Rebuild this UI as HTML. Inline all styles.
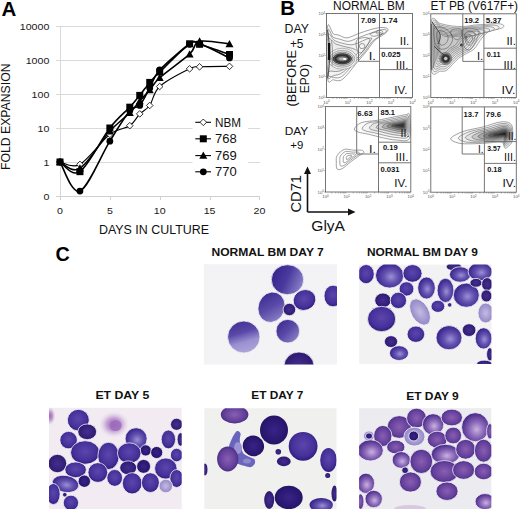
<!DOCTYPE html>
<html><head><meta charset="utf-8"><style>
html,body{margin:0;padding:0;background:#fff;}
svg{display:block;font-family:"Liberation Sans", sans-serif;}
</style></head><body>
<svg width="520" height="509" viewBox="0 0 520 509">
<rect width="520" height="509" fill="#fff"/>
<text x="1.5" y="16" font-size="20.5" text-anchor="start" font-weight="bold" fill="#000">A</text>
<line x1="56" y1="26.5" x2="260" y2="26.5" stroke="#d9d9d9" stroke-width="1"/>
<line x1="56" y1="60.5" x2="260" y2="60.5" stroke="#d9d9d9" stroke-width="1"/>
<line x1="56" y1="94.5" x2="260" y2="94.5" stroke="#d9d9d9" stroke-width="1"/>
<line x1="56" y1="128.5" x2="260" y2="128.5" stroke="#d9d9d9" stroke-width="1"/>
<line x1="56" y1="162.5" x2="260" y2="162.5" stroke="#d9d9d9" stroke-width="1"/>
<line x1="60.5" y1="26" x2="60.5" y2="197" stroke="#d9d9d9" stroke-width="1"/>
<line x1="56" y1="196.5" x2="260" y2="196.5" stroke="#d0d0d0" stroke-width="1"/>
<line x1="60.5" y1="196" x2="60.5" y2="200" stroke="#d0d0d0" stroke-width="1"/>
<line x1="110.5" y1="196" x2="110.5" y2="200" stroke="#d0d0d0" stroke-width="1"/>
<line x1="160.5" y1="196" x2="160.5" y2="200" stroke="#d0d0d0" stroke-width="1"/>
<line x1="210.5" y1="196" x2="210.5" y2="200" stroke="#d0d0d0" stroke-width="1"/>
<line x1="259.5" y1="196" x2="259.5" y2="200" stroke="#d0d0d0" stroke-width="1"/>
<text x="49.3" y="29.9" font-size="9.7" text-anchor="end" font-weight="normal" fill="#1a1a1a" textLength="29.5" lengthAdjust="spacingAndGlyphs">10000</text>
<text x="49.3" y="63.9" font-size="9.7" text-anchor="end" font-weight="normal" fill="#1a1a1a" textLength="23.6" lengthAdjust="spacingAndGlyphs">1000</text>
<text x="49.3" y="97.9" font-size="9.7" text-anchor="end" font-weight="normal" fill="#1a1a1a" textLength="17.7" lengthAdjust="spacingAndGlyphs">100</text>
<text x="49.3" y="131.9" font-size="9.7" text-anchor="end" font-weight="normal" fill="#1a1a1a" textLength="11.8" lengthAdjust="spacingAndGlyphs">10</text>
<text x="49.3" y="165.9" font-size="9.7" text-anchor="end" font-weight="normal" fill="#1a1a1a" textLength="5.9" lengthAdjust="spacingAndGlyphs">1</text>
<text x="49.3" y="199.9" font-size="9.7" text-anchor="end" font-weight="normal" fill="#1a1a1a" textLength="5.9" lengthAdjust="spacingAndGlyphs">0</text>
<text x="60" y="214.3" font-size="9.7" text-anchor="middle" font-weight="normal" fill="#1a1a1a" textLength="5.9" lengthAdjust="spacingAndGlyphs">0</text>
<text x="109.85" y="214.3" font-size="9.7" text-anchor="middle" font-weight="normal" fill="#1a1a1a" textLength="5.9" lengthAdjust="spacingAndGlyphs">5</text>
<text x="159.7" y="214.3" font-size="9.7" text-anchor="middle" font-weight="normal" fill="#1a1a1a" textLength="11.8" lengthAdjust="spacingAndGlyphs">10</text>
<text x="209.55" y="214.3" font-size="9.7" text-anchor="middle" font-weight="normal" fill="#1a1a1a" textLength="11.8" lengthAdjust="spacingAndGlyphs">15</text>
<text x="259.4" y="214.3" font-size="9.7" text-anchor="middle" font-weight="normal" fill="#1a1a1a" textLength="11.8" lengthAdjust="spacingAndGlyphs">20</text>
<text x="99" y="234" font-size="12" text-anchor="start" font-weight="normal" fill="#111" textLength="110" lengthAdjust="spacingAndGlyphs">DAYS IN CULTURE</text>
<text transform="translate(10.3,170) rotate(-90)" x="0" y="0" font-size="12.3" fill="#111" textLength="106.5" lengthAdjust="spacingAndGlyphs">FOLD EXPANSION</text>
<path d="M60,162 C63.32,162.4 71.63,169.01 79.94,164.4 C88.25,159.79 101.54,140.81 109.85,134.36 C118.16,127.91 124.81,129.09 129.79,125.68 C134.78,122.27 136.44,117.26 139.76,113.89 C143.08,110.52 146.41,110.03 149.73,105.47 C153.05,100.9 153.05,92.62 159.7,86.52 C166.35,80.41 182.96,72.11 189.61,68.83 C196.26,65.55 192.93,67.23 199.58,66.82 C206.23,66.41 224.5,66.44 229.49,66.36" fill="none" stroke="#000" stroke-width="1.1"/>
<path d="M60,162 C63.32,163.06 71.63,173.48 79.94,168.36 C88.25,163.24 101.54,140.56 109.85,131.29 C118.16,122.03 124.81,117.84 129.79,112.8 C134.78,107.76 136.44,104.86 139.76,101.06 C143.08,97.26 146.41,93.9 149.73,90.01 C153.05,86.12 153.05,83.7 159.7,77.73 C166.35,71.76 182.96,60.28 189.61,54.21 C196.26,48.14 192.93,43 199.58,41.29 C206.23,39.59 224.5,43.53 229.49,43.98" fill="none" stroke="#000" stroke-width="1.6"/>
<path d="M60,162 C63.32,166.84 71.63,194.5 79.94,191.03 C88.25,187.56 101.54,154.53 109.85,141.17 C118.16,127.8 124.81,116.77 129.79,110.82 C134.78,104.88 136.44,109.27 139.76,105.47 C143.08,101.66 146.41,93.92 149.73,88.01 C153.05,82.1 153.05,77.29 159.7,70 C166.35,62.71 182.96,48.65 189.61,44.28 C196.26,39.91 192.93,41.5 199.58,43.78 C206.23,46.05 224.5,55.58 229.49,57.94" fill="none" stroke="#000" stroke-width="1.6"/>
<path d="M60,162 C63.32,163.61 71.63,177.32 79.94,171.66 C88.25,165.99 101.54,138.75 109.85,128 C118.16,117.25 124.81,112.6 129.79,107.17 C134.78,101.73 136.44,99.52 139.76,95.39 C143.08,91.27 146.41,86.33 149.73,82.42 C153.05,78.52 153.05,78.43 159.7,71.99 C166.35,65.55 182.96,48.4 189.61,43.78 C196.26,39.16 192.93,42.49 199.58,44.28 C206.23,46.07 224.5,52.81 229.49,54.51" fill="none" stroke="#000" stroke-width="1.6"/>
<path d="M60,158.7 L63.3,162 L60,165.3 L56.7,162 Z" fill="#fff" stroke="#000" stroke-width="0.8"/>
<path d="M79.94,161.1 L83.24,164.4 L79.94,167.7 L76.64,164.4 Z" fill="#fff" stroke="#000" stroke-width="0.8"/>
<path d="M109.85,131.06 L113.15,134.36 L109.85,137.66 L106.55,134.36 Z" fill="#fff" stroke="#000" stroke-width="0.8"/>
<path d="M129.79,122.38 L133.09,125.68 L129.79,128.98 L126.49,125.68 Z" fill="#fff" stroke="#000" stroke-width="0.8"/>
<path d="M139.76,110.59 L143.06,113.89 L139.76,117.19 L136.46,113.89 Z" fill="#fff" stroke="#000" stroke-width="0.8"/>
<path d="M149.73,102.17 L153.03,105.47 L149.73,108.77 L146.43,105.47 Z" fill="#fff" stroke="#000" stroke-width="0.8"/>
<path d="M159.7,83.22 L163,86.52 L159.7,89.82 L156.4,86.52 Z" fill="#fff" stroke="#000" stroke-width="0.8"/>
<path d="M189.61,65.53 L192.91,68.83 L189.61,72.13 L186.31,68.83 Z" fill="#fff" stroke="#000" stroke-width="0.8"/>
<path d="M199.58,63.52 L202.88,66.82 L199.58,70.12 L196.28,66.82 Z" fill="#fff" stroke="#000" stroke-width="0.8"/>
<path d="M229.49,63.06 L232.79,66.36 L229.49,69.66 L226.19,66.36 Z" fill="#fff" stroke="#000" stroke-width="0.8"/>
<path d="M60,158 L64,165.2 L56,165.2 Z" fill="#000"/>
<path d="M79.94,164.36 L83.94,171.56 L75.94,171.56 Z" fill="#000"/>
<path d="M109.85,127.29 L113.85,134.49 L105.85,134.49 Z" fill="#000"/>
<path d="M129.79,108.8 L133.79,116 L125.79,116 Z" fill="#000"/>
<path d="M139.76,97.06 L143.76,104.26 L135.76,104.26 Z" fill="#000"/>
<path d="M149.73,86.01 L153.73,93.21 L145.73,93.21 Z" fill="#000"/>
<path d="M159.7,73.73 L163.7,80.93 L155.7,80.93 Z" fill="#000"/>
<path d="M189.61,50.21 L193.61,57.41 L185.61,57.41 Z" fill="#000"/>
<path d="M199.58,37.29 L203.58,44.49 L195.58,44.49 Z" fill="#000"/>
<path d="M229.49,39.98 L233.49,47.18 L225.49,47.18 Z" fill="#000"/>
<circle cx="60" cy="162" r="3.4" fill="#000"/>
<circle cx="79.94" cy="191.03" r="3.4" fill="#000"/>
<circle cx="109.85" cy="141.17" r="3.4" fill="#000"/>
<circle cx="129.79" cy="110.82" r="3.4" fill="#000"/>
<circle cx="139.76" cy="105.47" r="3.4" fill="#000"/>
<circle cx="149.73" cy="88.01" r="3.4" fill="#000"/>
<circle cx="159.7" cy="70" r="3.4" fill="#000"/>
<circle cx="189.61" cy="44.28" r="3.4" fill="#000"/>
<circle cx="199.58" cy="43.78" r="3.4" fill="#000"/>
<circle cx="229.49" cy="57.94" r="3.4" fill="#000"/>
<rect x="56.5" y="158.5" width="7" height="7" fill="#000"/>
<rect x="76.44" y="168.16" width="7" height="7" fill="#000"/>
<rect x="106.35" y="124.5" width="7" height="7" fill="#000"/>
<rect x="126.29" y="103.67" width="7" height="7" fill="#000"/>
<rect x="136.26" y="91.89" width="7" height="7" fill="#000"/>
<rect x="146.23" y="78.92" width="7" height="7" fill="#000"/>
<rect x="156.2" y="68.49" width="7" height="7" fill="#000"/>
<rect x="186.11" y="40.28" width="7" height="7" fill="#000"/>
<rect x="196.08" y="40.78" width="7" height="7" fill="#000"/>
<rect x="225.99" y="51.01" width="7" height="7" fill="#000"/>
<rect x="192.5" y="113" width="55.5" height="66" fill="#fff"/>
<line x1="195.3" y1="122.3" x2="211" y2="122.3" stroke="#000" stroke-width="1.1"/>
<path d="M203.3,119 L206.6,122.3 L203.3,125.6 L200,122.3 Z" fill="#fff" stroke="#000" stroke-width="0.8"/>
<text x="215" y="126.6" font-size="12" text-anchor="start" font-weight="normal" fill="#111" textLength="26" lengthAdjust="spacingAndGlyphs">NBM</text>
<line x1="195.3" y1="138.8" x2="211" y2="138.8" stroke="#000" stroke-width="1.1"/>
<rect x="199.8" y="135.3" width="7" height="7" fill="#000"/>
<text x="215" y="143.1" font-size="12" text-anchor="start" font-weight="normal" fill="#111" textLength="21.7" lengthAdjust="spacingAndGlyphs">768</text>
<line x1="195.3" y1="155.6" x2="211" y2="155.6" stroke="#000" stroke-width="1.1"/>
<path d="M203.3,151.6 L207.3,158.8 L199.3,158.8 Z" fill="#000"/>
<text x="215" y="159.9" font-size="12" text-anchor="start" font-weight="normal" fill="#111" textLength="21.7" lengthAdjust="spacingAndGlyphs">769</text>
<line x1="195.3" y1="171.8" x2="211" y2="171.8" stroke="#000" stroke-width="1.1"/>
<circle cx="203.3" cy="171.8" r="3.4" fill="#000"/>
<text x="215" y="176.1" font-size="12" text-anchor="start" font-weight="normal" fill="#111" textLength="21.7" lengthAdjust="spacingAndGlyphs">770</text>
<text x="280.2" y="14.8" font-size="19.5" text-anchor="start" font-weight="bold" fill="#000" textLength="14.8" lengthAdjust="spacingAndGlyphs">B</text>
<text x="333.1" y="9.6" font-size="12" text-anchor="start" font-weight="normal" fill="#111" textLength="71.7" lengthAdjust="spacingAndGlyphs">NORMAL BM</text>
<text x="430.6" y="9.6" font-size="12" text-anchor="start" font-weight="normal" fill="#111" textLength="87.5" lengthAdjust="spacingAndGlyphs">ET PB (V617F+)</text>
<text x="284.6" y="33" font-size="12.2" text-anchor="start" font-weight="normal" fill="#111" textLength="24.3" lengthAdjust="spacingAndGlyphs">DAY</text>
<text x="289.9" y="47.6" font-size="12.6" text-anchor="start" font-weight="normal" fill="#111" textLength="13.6" lengthAdjust="spacingAndGlyphs">+5</text>
<text transform="translate(295.8,106.6) rotate(-90)" font-size="13.3" fill="#111" textLength="56.5" lengthAdjust="spacingAndGlyphs">(BEFORE</text>
<text transform="translate(309.4,93.2) rotate(-90)" font-size="12.6" fill="#111" textLength="29.3" lengthAdjust="spacingAndGlyphs">EPO)</text>
<text x="284.7" y="134.5" font-size="11.5" text-anchor="start" font-weight="normal" fill="#111" textLength="23.6" lengthAdjust="spacingAndGlyphs">DAY</text>
<text x="290.3" y="148.7" font-size="11.5" text-anchor="start" font-weight="normal" fill="#111" textLength="13" lengthAdjust="spacingAndGlyphs">+9</text>
<path d="M307.5,212 L307.5,172 M307.5,212 L350,212" stroke="#111" stroke-width="1.6" fill="none"/>
<path d="M307.5,166.5 L304,174 L311,174 Z" fill="#111"/>
<path d="M355.5,212 L348,208.5 L348,215.5 Z" fill="#111"/>
<text transform="translate(301.3,212.5) rotate(-90)" font-size="15" fill="#111" textLength="37.5" lengthAdjust="spacingAndGlyphs">CD71</text>
<text x="311.3" y="230.8" font-size="14.5" text-anchor="start" font-weight="normal" fill="#111" textLength="33.7" lengthAdjust="spacingAndGlyphs">GlyA</text>
<text x="325" y="99" font-size="4.3" fill="#555" text-anchor="end">10<tspan dy="-1.5" font-size="3">0</tspan></text>
<line x1="325" y1="97.5" x2="326.5" y2="97.5" stroke="#999" stroke-width="0.6"/>
<text x="325" y="78" font-size="4.3" fill="#555" text-anchor="end">10<tspan dy="-1.5" font-size="3">1</tspan></text>
<line x1="325" y1="76.5" x2="326.5" y2="76.5" stroke="#999" stroke-width="0.6"/>
<text x="325" y="57" font-size="4.3" fill="#555" text-anchor="end">10<tspan dy="-1.5" font-size="3">2</tspan></text>
<line x1="325" y1="55.5" x2="326.5" y2="55.5" stroke="#999" stroke-width="0.6"/>
<text x="325" y="36" font-size="4.3" fill="#555" text-anchor="end">10<tspan dy="-1.5" font-size="3">3</tspan></text>
<line x1="325" y1="34.5" x2="326.5" y2="34.5" stroke="#999" stroke-width="0.6"/>
<text x="325" y="15" font-size="4.3" fill="#555" text-anchor="end">10<tspan dy="-1.5" font-size="3">4</tspan></text>
<line x1="325" y1="13.5" x2="326.5" y2="13.5" stroke="#999" stroke-width="0.6"/>
<text x="326.5" y="103.5" font-size="4.3" fill="#555" text-anchor="middle">10<tspan dy="-1.5" font-size="3">0</tspan></text>
<text x="348" y="103.5" font-size="4.3" fill="#555" text-anchor="middle">10<tspan dy="-1.5" font-size="3">1</tspan></text>
<text x="369.5" y="103.5" font-size="4.3" fill="#555" text-anchor="middle">10<tspan dy="-1.5" font-size="3">2</tspan></text>
<text x="391" y="103.5" font-size="4.3" fill="#555" text-anchor="middle">10<tspan dy="-1.5" font-size="3">3</tspan></text>
<text x="412.5" y="103.5" font-size="4.3" fill="#555" text-anchor="middle">10<tspan dy="-1.5" font-size="3">4</tspan></text>
<line x1="332.97" y1="97.5" x2="332.97" y2="99" stroke="#777" stroke-width="0.5"/>
<line x1="336.76" y1="97.5" x2="336.76" y2="99" stroke="#777" stroke-width="0.5"/>
<line x1="339.44" y1="97.5" x2="339.44" y2="99" stroke="#777" stroke-width="0.5"/>
<line x1="341.53" y1="97.5" x2="341.53" y2="99" stroke="#777" stroke-width="0.5"/>
<line x1="343.23" y1="97.5" x2="343.23" y2="99" stroke="#777" stroke-width="0.5"/>
<line x1="344.67" y1="97.5" x2="344.67" y2="99" stroke="#777" stroke-width="0.5"/>
<line x1="345.92" y1="97.5" x2="345.92" y2="99" stroke="#777" stroke-width="0.5"/>
<line x1="347.02" y1="97.5" x2="347.02" y2="99" stroke="#777" stroke-width="0.5"/>
<line x1="354.47" y1="97.5" x2="354.47" y2="99" stroke="#777" stroke-width="0.5"/>
<line x1="358.26" y1="97.5" x2="358.26" y2="99" stroke="#777" stroke-width="0.5"/>
<line x1="360.94" y1="97.5" x2="360.94" y2="99" stroke="#777" stroke-width="0.5"/>
<line x1="363.03" y1="97.5" x2="363.03" y2="99" stroke="#777" stroke-width="0.5"/>
<line x1="364.73" y1="97.5" x2="364.73" y2="99" stroke="#777" stroke-width="0.5"/>
<line x1="366.17" y1="97.5" x2="366.17" y2="99" stroke="#777" stroke-width="0.5"/>
<line x1="367.42" y1="97.5" x2="367.42" y2="99" stroke="#777" stroke-width="0.5"/>
<line x1="368.52" y1="97.5" x2="368.52" y2="99" stroke="#777" stroke-width="0.5"/>
<line x1="375.97" y1="97.5" x2="375.97" y2="99" stroke="#777" stroke-width="0.5"/>
<line x1="379.76" y1="97.5" x2="379.76" y2="99" stroke="#777" stroke-width="0.5"/>
<line x1="382.44" y1="97.5" x2="382.44" y2="99" stroke="#777" stroke-width="0.5"/>
<line x1="384.53" y1="97.5" x2="384.53" y2="99" stroke="#777" stroke-width="0.5"/>
<line x1="386.23" y1="97.5" x2="386.23" y2="99" stroke="#777" stroke-width="0.5"/>
<line x1="387.67" y1="97.5" x2="387.67" y2="99" stroke="#777" stroke-width="0.5"/>
<line x1="388.92" y1="97.5" x2="388.92" y2="99" stroke="#777" stroke-width="0.5"/>
<line x1="390.02" y1="97.5" x2="390.02" y2="99" stroke="#777" stroke-width="0.5"/>
<line x1="397.47" y1="97.5" x2="397.47" y2="99" stroke="#777" stroke-width="0.5"/>
<line x1="401.26" y1="97.5" x2="401.26" y2="99" stroke="#777" stroke-width="0.5"/>
<line x1="403.94" y1="97.5" x2="403.94" y2="99" stroke="#777" stroke-width="0.5"/>
<line x1="406.03" y1="97.5" x2="406.03" y2="99" stroke="#777" stroke-width="0.5"/>
<line x1="407.73" y1="97.5" x2="407.73" y2="99" stroke="#777" stroke-width="0.5"/>
<line x1="409.17" y1="97.5" x2="409.17" y2="99" stroke="#777" stroke-width="0.5"/>
<line x1="410.42" y1="97.5" x2="410.42" y2="99" stroke="#777" stroke-width="0.5"/>
<line x1="411.52" y1="97.5" x2="411.52" y2="99" stroke="#777" stroke-width="0.5"/>
<text x="429.3" y="99" font-size="4.3" fill="#555" text-anchor="end">10<tspan dy="-1.5" font-size="3">0</tspan></text>
<line x1="429.3" y1="97.5" x2="430.8" y2="97.5" stroke="#999" stroke-width="0.6"/>
<text x="429.3" y="78.08" font-size="4.3" fill="#555" text-anchor="end">10<tspan dy="-1.5" font-size="3">1</tspan></text>
<line x1="429.3" y1="76.58" x2="430.8" y2="76.58" stroke="#999" stroke-width="0.6"/>
<text x="429.3" y="57.15" font-size="4.3" fill="#555" text-anchor="end">10<tspan dy="-1.5" font-size="3">2</tspan></text>
<line x1="429.3" y1="55.65" x2="430.8" y2="55.65" stroke="#999" stroke-width="0.6"/>
<text x="429.3" y="36.22" font-size="4.3" fill="#555" text-anchor="end">10<tspan dy="-1.5" font-size="3">3</tspan></text>
<line x1="429.3" y1="34.72" x2="430.8" y2="34.72" stroke="#999" stroke-width="0.6"/>
<text x="429.3" y="15.3" font-size="4.3" fill="#555" text-anchor="end">10<tspan dy="-1.5" font-size="3">4</tspan></text>
<line x1="429.3" y1="13.8" x2="430.8" y2="13.8" stroke="#999" stroke-width="0.6"/>
<text x="430.8" y="103.5" font-size="4.3" fill="#555" text-anchor="middle">10<tspan dy="-1.5" font-size="3">0</tspan></text>
<text x="452.18" y="103.5" font-size="4.3" fill="#555" text-anchor="middle">10<tspan dy="-1.5" font-size="3">1</tspan></text>
<text x="473.55" y="103.5" font-size="4.3" fill="#555" text-anchor="middle">10<tspan dy="-1.5" font-size="3">2</tspan></text>
<text x="494.92" y="103.5" font-size="4.3" fill="#555" text-anchor="middle">10<tspan dy="-1.5" font-size="3">3</tspan></text>
<text x="516.3" y="103.5" font-size="4.3" fill="#555" text-anchor="middle">10<tspan dy="-1.5" font-size="3">4</tspan></text>
<line x1="437.23" y1="97.5" x2="437.23" y2="99" stroke="#777" stroke-width="0.5"/>
<line x1="441" y1="97.5" x2="441" y2="99" stroke="#777" stroke-width="0.5"/>
<line x1="443.67" y1="97.5" x2="443.67" y2="99" stroke="#777" stroke-width="0.5"/>
<line x1="445.74" y1="97.5" x2="445.74" y2="99" stroke="#777" stroke-width="0.5"/>
<line x1="447.43" y1="97.5" x2="447.43" y2="99" stroke="#777" stroke-width="0.5"/>
<line x1="448.86" y1="97.5" x2="448.86" y2="99" stroke="#777" stroke-width="0.5"/>
<line x1="450.1" y1="97.5" x2="450.1" y2="99" stroke="#777" stroke-width="0.5"/>
<line x1="451.2" y1="97.5" x2="451.2" y2="99" stroke="#777" stroke-width="0.5"/>
<line x1="458.61" y1="97.5" x2="458.61" y2="99" stroke="#777" stroke-width="0.5"/>
<line x1="462.37" y1="97.5" x2="462.37" y2="99" stroke="#777" stroke-width="0.5"/>
<line x1="465.04" y1="97.5" x2="465.04" y2="99" stroke="#777" stroke-width="0.5"/>
<line x1="467.12" y1="97.5" x2="467.12" y2="99" stroke="#777" stroke-width="0.5"/>
<line x1="468.81" y1="97.5" x2="468.81" y2="99" stroke="#777" stroke-width="0.5"/>
<line x1="470.24" y1="97.5" x2="470.24" y2="99" stroke="#777" stroke-width="0.5"/>
<line x1="471.48" y1="97.5" x2="471.48" y2="99" stroke="#777" stroke-width="0.5"/>
<line x1="472.57" y1="97.5" x2="472.57" y2="99" stroke="#777" stroke-width="0.5"/>
<line x1="479.98" y1="97.5" x2="479.98" y2="99" stroke="#777" stroke-width="0.5"/>
<line x1="483.75" y1="97.5" x2="483.75" y2="99" stroke="#777" stroke-width="0.5"/>
<line x1="486.42" y1="97.5" x2="486.42" y2="99" stroke="#777" stroke-width="0.5"/>
<line x1="488.49" y1="97.5" x2="488.49" y2="99" stroke="#777" stroke-width="0.5"/>
<line x1="490.18" y1="97.5" x2="490.18" y2="99" stroke="#777" stroke-width="0.5"/>
<line x1="491.61" y1="97.5" x2="491.61" y2="99" stroke="#777" stroke-width="0.5"/>
<line x1="492.85" y1="97.5" x2="492.85" y2="99" stroke="#777" stroke-width="0.5"/>
<line x1="493.95" y1="97.5" x2="493.95" y2="99" stroke="#777" stroke-width="0.5"/>
<line x1="501.36" y1="97.5" x2="501.36" y2="99" stroke="#777" stroke-width="0.5"/>
<line x1="505.12" y1="97.5" x2="505.12" y2="99" stroke="#777" stroke-width="0.5"/>
<line x1="507.79" y1="97.5" x2="507.79" y2="99" stroke="#777" stroke-width="0.5"/>
<line x1="509.87" y1="97.5" x2="509.87" y2="99" stroke="#777" stroke-width="0.5"/>
<line x1="511.56" y1="97.5" x2="511.56" y2="99" stroke="#777" stroke-width="0.5"/>
<line x1="512.99" y1="97.5" x2="512.99" y2="99" stroke="#777" stroke-width="0.5"/>
<line x1="514.23" y1="97.5" x2="514.23" y2="99" stroke="#777" stroke-width="0.5"/>
<line x1="515.32" y1="97.5" x2="515.32" y2="99" stroke="#777" stroke-width="0.5"/>
<text x="324" y="193.5" font-size="4.3" fill="#555" text-anchor="end">10<tspan dy="-1.5" font-size="3">0</tspan></text>
<line x1="324" y1="192" x2="325.5" y2="192" stroke="#999" stroke-width="0.6"/>
<text x="324" y="172.15" font-size="4.3" fill="#555" text-anchor="end">10<tspan dy="-1.5" font-size="3">1</tspan></text>
<line x1="324" y1="170.65" x2="325.5" y2="170.65" stroke="#999" stroke-width="0.6"/>
<text x="324" y="150.8" font-size="4.3" fill="#555" text-anchor="end">10<tspan dy="-1.5" font-size="3">2</tspan></text>
<line x1="324" y1="149.3" x2="325.5" y2="149.3" stroke="#999" stroke-width="0.6"/>
<text x="324" y="129.45" font-size="4.3" fill="#555" text-anchor="end">10<tspan dy="-1.5" font-size="3">3</tspan></text>
<line x1="324" y1="127.95" x2="325.5" y2="127.95" stroke="#999" stroke-width="0.6"/>
<text x="324" y="108.1" font-size="4.3" fill="#555" text-anchor="end">10<tspan dy="-1.5" font-size="3">4</tspan></text>
<line x1="324" y1="106.6" x2="325.5" y2="106.6" stroke="#999" stroke-width="0.6"/>
<text x="325.5" y="198" font-size="4.3" fill="#555" text-anchor="middle">10<tspan dy="-1.5" font-size="3">0</tspan></text>
<text x="346.82" y="198" font-size="4.3" fill="#555" text-anchor="middle">10<tspan dy="-1.5" font-size="3">1</tspan></text>
<text x="368.15" y="198" font-size="4.3" fill="#555" text-anchor="middle">10<tspan dy="-1.5" font-size="3">2</tspan></text>
<text x="389.48" y="198" font-size="4.3" fill="#555" text-anchor="middle">10<tspan dy="-1.5" font-size="3">3</tspan></text>
<text x="410.8" y="198" font-size="4.3" fill="#555" text-anchor="middle">10<tspan dy="-1.5" font-size="3">4</tspan></text>
<line x1="331.92" y1="192" x2="331.92" y2="193.5" stroke="#777" stroke-width="0.5"/>
<line x1="335.67" y1="192" x2="335.67" y2="193.5" stroke="#777" stroke-width="0.5"/>
<line x1="338.34" y1="192" x2="338.34" y2="193.5" stroke="#777" stroke-width="0.5"/>
<line x1="340.41" y1="192" x2="340.41" y2="193.5" stroke="#777" stroke-width="0.5"/>
<line x1="342.09" y1="192" x2="342.09" y2="193.5" stroke="#777" stroke-width="0.5"/>
<line x1="343.52" y1="192" x2="343.52" y2="193.5" stroke="#777" stroke-width="0.5"/>
<line x1="344.76" y1="192" x2="344.76" y2="193.5" stroke="#777" stroke-width="0.5"/>
<line x1="345.85" y1="192" x2="345.85" y2="193.5" stroke="#777" stroke-width="0.5"/>
<line x1="353.24" y1="192" x2="353.24" y2="193.5" stroke="#777" stroke-width="0.5"/>
<line x1="357" y1="192" x2="357" y2="193.5" stroke="#777" stroke-width="0.5"/>
<line x1="359.66" y1="192" x2="359.66" y2="193.5" stroke="#777" stroke-width="0.5"/>
<line x1="361.73" y1="192" x2="361.73" y2="193.5" stroke="#777" stroke-width="0.5"/>
<line x1="363.42" y1="192" x2="363.42" y2="193.5" stroke="#777" stroke-width="0.5"/>
<line x1="364.85" y1="192" x2="364.85" y2="193.5" stroke="#777" stroke-width="0.5"/>
<line x1="366.08" y1="192" x2="366.08" y2="193.5" stroke="#777" stroke-width="0.5"/>
<line x1="367.17" y1="192" x2="367.17" y2="193.5" stroke="#777" stroke-width="0.5"/>
<line x1="374.57" y1="192" x2="374.57" y2="193.5" stroke="#777" stroke-width="0.5"/>
<line x1="378.32" y1="192" x2="378.32" y2="193.5" stroke="#777" stroke-width="0.5"/>
<line x1="380.99" y1="192" x2="380.99" y2="193.5" stroke="#777" stroke-width="0.5"/>
<line x1="383.06" y1="192" x2="383.06" y2="193.5" stroke="#777" stroke-width="0.5"/>
<line x1="384.74" y1="192" x2="384.74" y2="193.5" stroke="#777" stroke-width="0.5"/>
<line x1="386.17" y1="192" x2="386.17" y2="193.5" stroke="#777" stroke-width="0.5"/>
<line x1="387.41" y1="192" x2="387.41" y2="193.5" stroke="#777" stroke-width="0.5"/>
<line x1="388.5" y1="192" x2="388.5" y2="193.5" stroke="#777" stroke-width="0.5"/>
<line x1="395.89" y1="192" x2="395.89" y2="193.5" stroke="#777" stroke-width="0.5"/>
<line x1="399.65" y1="192" x2="399.65" y2="193.5" stroke="#777" stroke-width="0.5"/>
<line x1="402.31" y1="192" x2="402.31" y2="193.5" stroke="#777" stroke-width="0.5"/>
<line x1="404.38" y1="192" x2="404.38" y2="193.5" stroke="#777" stroke-width="0.5"/>
<line x1="406.07" y1="192" x2="406.07" y2="193.5" stroke="#777" stroke-width="0.5"/>
<line x1="407.5" y1="192" x2="407.5" y2="193.5" stroke="#777" stroke-width="0.5"/>
<line x1="408.73" y1="192" x2="408.73" y2="193.5" stroke="#777" stroke-width="0.5"/>
<line x1="409.82" y1="192" x2="409.82" y2="193.5" stroke="#777" stroke-width="0.5"/>
<text x="429.3" y="193.7" font-size="4.3" fill="#555" text-anchor="end">10<tspan dy="-1.5" font-size="3">0</tspan></text>
<line x1="429.3" y1="192.2" x2="430.8" y2="192.2" stroke="#999" stroke-width="0.6"/>
<text x="429.3" y="172.38" font-size="4.3" fill="#555" text-anchor="end">10<tspan dy="-1.5" font-size="3">1</tspan></text>
<line x1="429.3" y1="170.88" x2="430.8" y2="170.88" stroke="#999" stroke-width="0.6"/>
<text x="429.3" y="151.05" font-size="4.3" fill="#555" text-anchor="end">10<tspan dy="-1.5" font-size="3">2</tspan></text>
<line x1="429.3" y1="149.55" x2="430.8" y2="149.55" stroke="#999" stroke-width="0.6"/>
<text x="429.3" y="129.72" font-size="4.3" fill="#555" text-anchor="end">10<tspan dy="-1.5" font-size="3">3</tspan></text>
<line x1="429.3" y1="128.22" x2="430.8" y2="128.22" stroke="#999" stroke-width="0.6"/>
<text x="429.3" y="108.4" font-size="4.3" fill="#555" text-anchor="end">10<tspan dy="-1.5" font-size="3">4</tspan></text>
<line x1="429.3" y1="106.9" x2="430.8" y2="106.9" stroke="#999" stroke-width="0.6"/>
<text x="430.8" y="198.2" font-size="4.3" fill="#555" text-anchor="middle">10<tspan dy="-1.5" font-size="3">0</tspan></text>
<text x="452.18" y="198.2" font-size="4.3" fill="#555" text-anchor="middle">10<tspan dy="-1.5" font-size="3">1</tspan></text>
<text x="473.55" y="198.2" font-size="4.3" fill="#555" text-anchor="middle">10<tspan dy="-1.5" font-size="3">2</tspan></text>
<text x="494.92" y="198.2" font-size="4.3" fill="#555" text-anchor="middle">10<tspan dy="-1.5" font-size="3">3</tspan></text>
<text x="516.3" y="198.2" font-size="4.3" fill="#555" text-anchor="middle">10<tspan dy="-1.5" font-size="3">4</tspan></text>
<line x1="437.23" y1="192.2" x2="437.23" y2="193.7" stroke="#777" stroke-width="0.5"/>
<line x1="441" y1="192.2" x2="441" y2="193.7" stroke="#777" stroke-width="0.5"/>
<line x1="443.67" y1="192.2" x2="443.67" y2="193.7" stroke="#777" stroke-width="0.5"/>
<line x1="445.74" y1="192.2" x2="445.74" y2="193.7" stroke="#777" stroke-width="0.5"/>
<line x1="447.43" y1="192.2" x2="447.43" y2="193.7" stroke="#777" stroke-width="0.5"/>
<line x1="448.86" y1="192.2" x2="448.86" y2="193.7" stroke="#777" stroke-width="0.5"/>
<line x1="450.1" y1="192.2" x2="450.1" y2="193.7" stroke="#777" stroke-width="0.5"/>
<line x1="451.2" y1="192.2" x2="451.2" y2="193.7" stroke="#777" stroke-width="0.5"/>
<line x1="458.61" y1="192.2" x2="458.61" y2="193.7" stroke="#777" stroke-width="0.5"/>
<line x1="462.37" y1="192.2" x2="462.37" y2="193.7" stroke="#777" stroke-width="0.5"/>
<line x1="465.04" y1="192.2" x2="465.04" y2="193.7" stroke="#777" stroke-width="0.5"/>
<line x1="467.12" y1="192.2" x2="467.12" y2="193.7" stroke="#777" stroke-width="0.5"/>
<line x1="468.81" y1="192.2" x2="468.81" y2="193.7" stroke="#777" stroke-width="0.5"/>
<line x1="470.24" y1="192.2" x2="470.24" y2="193.7" stroke="#777" stroke-width="0.5"/>
<line x1="471.48" y1="192.2" x2="471.48" y2="193.7" stroke="#777" stroke-width="0.5"/>
<line x1="472.57" y1="192.2" x2="472.57" y2="193.7" stroke="#777" stroke-width="0.5"/>
<line x1="479.98" y1="192.2" x2="479.98" y2="193.7" stroke="#777" stroke-width="0.5"/>
<line x1="483.75" y1="192.2" x2="483.75" y2="193.7" stroke="#777" stroke-width="0.5"/>
<line x1="486.42" y1="192.2" x2="486.42" y2="193.7" stroke="#777" stroke-width="0.5"/>
<line x1="488.49" y1="192.2" x2="488.49" y2="193.7" stroke="#777" stroke-width="0.5"/>
<line x1="490.18" y1="192.2" x2="490.18" y2="193.7" stroke="#777" stroke-width="0.5"/>
<line x1="491.61" y1="192.2" x2="491.61" y2="193.7" stroke="#777" stroke-width="0.5"/>
<line x1="492.85" y1="192.2" x2="492.85" y2="193.7" stroke="#777" stroke-width="0.5"/>
<line x1="493.95" y1="192.2" x2="493.95" y2="193.7" stroke="#777" stroke-width="0.5"/>
<line x1="501.36" y1="192.2" x2="501.36" y2="193.7" stroke="#777" stroke-width="0.5"/>
<line x1="505.12" y1="192.2" x2="505.12" y2="193.7" stroke="#777" stroke-width="0.5"/>
<line x1="507.79" y1="192.2" x2="507.79" y2="193.7" stroke="#777" stroke-width="0.5"/>
<line x1="509.87" y1="192.2" x2="509.87" y2="193.7" stroke="#777" stroke-width="0.5"/>
<line x1="511.56" y1="192.2" x2="511.56" y2="193.7" stroke="#777" stroke-width="0.5"/>
<line x1="512.99" y1="192.2" x2="512.99" y2="193.7" stroke="#777" stroke-width="0.5"/>
<line x1="514.23" y1="192.2" x2="514.23" y2="193.7" stroke="#777" stroke-width="0.5"/>
<line x1="515.32" y1="192.2" x2="515.32" y2="193.7" stroke="#777" stroke-width="0.5"/>
<path d="M327.48,26.88 C328.44,19.54 331.37,32.38 333.25,33.76 C335.13,35.13 336.46,34.44 338.76,35.13 C341.05,35.82 343.8,38.11 347.01,37.88 C350.22,37.65 354.12,35.13 358.01,33.76 C361.91,32.38 366.72,30.66 370.39,29.63 C374.06,28.6 377.27,27.79 380.02,27.57 C382.77,27.34 385.64,27.68 386.9,28.25 C388.16,28.83 388.27,29.86 387.59,31 C386.9,32.15 384.95,33.53 382.77,35.13 C380.59,36.74 377.27,37.88 374.52,40.63 C371.77,43.38 369.02,48.2 366.27,51.64 C363.51,55.08 360.3,58.51 358.01,61.27 C355.72,64.02 354.57,65.62 352.51,68.14 C350.45,70.66 347.7,74.33 345.63,76.4 C343.57,78.46 342.19,79.95 340.13,80.52 C338.07,81.1 335.36,80.29 333.25,79.83 C331.14,79.38 328.44,86.6 327.48,77.77 C326.51,68.95 326.51,34.21 327.48,26.88Z" fill="#fcfcfc" stroke="#555" stroke-width="0.55"/>
<path d="M327.48,31 C328.44,24.7 331.14,35.82 333.25,37.19 C335.36,38.57 337.61,38.57 340.13,39.26 C342.65,39.94 345.4,41.55 348.38,41.32 C351.36,41.09 354.57,39.14 358.01,37.88 C361.45,36.62 365.81,34.72 369.02,33.76 C372.23,32.79 375.09,32.15 377.27,32.1 C379.45,32.06 381.85,32.7 382.08,33.48 C382.31,34.26 380.36,35.36 378.65,36.78 C376.93,38.2 374.06,39.53 371.77,42.01 C369.48,44.48 367.3,48.66 364.89,51.64 C362.48,54.62 359.62,57.37 357.32,59.89 C355.03,62.41 353.31,64.36 351.13,66.77 C348.96,69.17 346.32,72.5 344.26,74.33 C342.19,76.17 340.82,77.31 338.76,77.77 C336.69,78.23 333.76,77.54 331.88,77.08 C330,76.63 328.21,82.7 327.48,75.02 C326.74,67.34 326.51,37.31 327.48,31Z" fill="#f8f8f8" stroke="#555" stroke-width="0.55"/>
<path d="M327.48,35.13 C328.67,29.74 332.06,39.26 334.63,40.63 C337.2,42.01 340.13,42.7 342.88,43.38 C345.63,44.07 348.5,44.87 351.13,44.76 C353.77,44.64 356.18,43.61 358.7,42.7 C361.22,41.78 364.09,40.01 366.27,39.26 C368.44,38.5 371.31,37.58 371.77,38.16 C372.23,38.73 370.39,40.68 369.02,42.7 C367.64,44.71 365.58,47.62 363.51,50.26 C361.45,52.9 358.81,55.99 356.64,58.51 C354.46,61.04 352.74,63.1 350.45,65.39 C348.15,67.68 345.29,70.66 342.88,72.27 C340.47,73.87 338.57,74.91 336,75.02 C333.44,75.14 328.9,79.61 327.48,72.96 C326.05,66.31 326.28,40.52 327.48,35.13Z" fill="#f3f3f3" stroke="#555" stroke-width="0.55"/>
<path d="M327.48,39.26 C328.9,35.25 332.98,42.81 336,44.07 C339.03,45.33 342.65,46.02 345.63,46.82 C348.61,47.62 351.82,48.04 353.89,48.89 C355.95,49.73 357.78,50.72 358.01,51.91 C358.24,53.1 356.18,54.48 355.26,56.04 C354.34,57.6 353.89,59.48 352.51,61.27 C351.13,63.05 349.07,65.16 347.01,66.77 C344.94,68.37 342.65,70.16 340.13,70.89 C337.61,71.63 333.99,71.63 331.88,71.17 C329.77,70.71 328.21,73.46 327.48,68.14 C326.74,62.82 326.05,43.27 327.48,39.26Z" fill="#ececec" stroke="#555" stroke-width="0.55"/>
<path d="M356.64,40.63 C357.74,38.75 361.34,37.84 363.51,37.61 C365.69,37.38 369.25,37.72 369.7,39.26 C370.16,40.79 367.71,44.53 366.27,46.82 C364.82,49.12 362.6,52.67 361.04,53.01 C359.48,53.36 357.65,50.95 356.91,48.89 C356.18,46.82 355.54,42.51 356.64,40.63Z" fill="none" stroke="#555" stroke-width="0.55"/>
<path d="M370.39,33.76 C371.31,32.77 376.12,31 378.65,30.32 C381.17,29.63 384.38,29.28 385.52,29.63 C386.67,29.97 386.44,31.51 385.52,32.38 C384.61,33.25 382.08,34.21 380.02,34.86 C377.96,35.5 374.75,36.41 373.14,36.23 C371.54,36.05 369.48,34.74 370.39,33.76Z" fill="none" stroke="#555" stroke-width="0.55"/>
<ellipse cx="362.1" cy="46.1" rx="2.8" ry="2.6" fill="none" stroke="#555" stroke-width="0.55"/>
<ellipse cx="379.6" cy="32.3" rx="3.4" ry="2" fill="none" stroke="#555" stroke-width="0.55"/>
<ellipse cx="342.3" cy="58.8" rx="14.5" ry="10.5" fill="#f2f2f2" stroke="#666" stroke-width="0.45"/>
<ellipse cx="342.3" cy="58.8" rx="12.5" ry="8.4" fill="#e2e2e2" stroke="#555" stroke-width="0.45"/>
<ellipse cx="342.3" cy="58.8" rx="10.8" ry="6.6" fill="#c8c8c8" stroke="#444" stroke-width="0.45"/>
<ellipse cx="342.3" cy="58.8" rx="9.2" ry="5.1" fill="#666" stroke="#222" stroke-width="0.8"/>
<ellipse cx="342.3" cy="58.8" rx="7.6" ry="3.9" fill="#3a3a3a" stroke="#111" stroke-width="0.6"/>
<ellipse cx="342.3" cy="58.8" rx="5.8" ry="2.7" fill="#7a7a7a" stroke="#333" stroke-width="0.4"/>
<ellipse cx="342.3" cy="58.8" rx="3.4" ry="1.5" fill="#b8b8b8" stroke="#555" stroke-width="0.3"/>
<ellipse cx="344.8" cy="58.9" rx="1.8" ry="1" fill="#fff"/>
<path d="M327.6,30 C329,40 330,50 329.5,60 C329,68 328.5,74 327.6,78" fill="none" stroke="#555" stroke-width="1.2"/>
<path d="M329.1,43 L329.1,60" stroke="#111" stroke-width="2.4"/>
<path d="M331.5,40 C332.5,48 333,56 332,66" fill="none" stroke="#777" stroke-width="0.7"/>
<path d="M431.38,21.23 C432.87,13.41 437.03,22.77 440.31,23.54 C443.59,24.31 447.23,25.33 451.08,25.85 C454.92,26.36 459.54,26.74 463.38,26.62 C467.23,26.49 470.31,25.46 474.15,25.08 C478,24.69 482.62,24.56 486.46,24.31 C490.31,24.05 494.41,23.41 497.23,23.54 C500.05,23.67 502.62,24.31 503.38,25.08 C504.15,25.85 504.15,27.13 501.85,28.15 C499.54,29.18 492.87,29.56 489.54,31.23 C486.21,32.9 484.41,35.21 481.85,38.15 C479.28,41.1 476.72,46.36 474.15,48.92 C471.59,51.49 469.03,52 466.46,53.54 C463.9,55.08 461.08,56.36 458.77,58.15 C456.46,59.95 454.67,62.26 452.62,64.31 C450.56,66.36 448.51,69.31 446.46,70.46 C444.41,71.62 442.82,71.23 440.31,71.23 C437.79,71.23 432.87,78.79 431.38,70.46 C429.9,62.13 429.9,29.05 431.38,21.23Z" fill="#f8f8f8" stroke="#555" stroke-width="0.5"/>
<path d="M432.47,22.95 C433.84,15.76 437.66,24.37 440.68,25.08 C443.7,25.78 447.05,26.73 450.58,27.2 C454.12,27.67 458.37,28.03 461.91,27.91 C465.45,27.79 468.28,26.85 471.82,26.49 C475.35,26.14 479.6,26.02 483.14,25.78 C486.68,25.55 490.45,24.96 493.05,25.08 C495.64,25.19 498,25.78 498.71,26.49 C499.42,27.2 499.42,28.38 497.29,29.32 C495.17,30.27 489.04,30.62 485.97,32.15 C482.9,33.69 481.25,35.81 478.89,38.52 C476.53,41.24 474.17,46.07 471.82,48.43 C469.46,50.79 467.1,51.26 464.74,52.68 C462.38,54.09 459.78,55.27 457.66,56.92 C455.54,58.57 453.89,60.7 452,62.58 C450.11,64.47 448.23,67.18 446.34,68.25 C444.45,69.31 442.99,68.95 440.68,68.95 C438.37,68.95 433.84,75.91 432.47,68.25 C431.1,60.58 431.1,30.15 432.47,22.95Z" fill="#f2f2f2" stroke="#555" stroke-width="0.5"/>
<path d="M433.55,24.68 C434.8,18.11 438.29,25.97 441.05,26.62 C443.8,27.26 446.86,28.12 450.09,28.55 C453.32,28.98 457.2,29.31 460.43,29.2 C463.66,29.09 466.25,28.23 469.48,27.91 C472.71,27.58 476.58,27.48 479.82,27.26 C483.05,27.05 486.49,26.51 488.86,26.62 C491.23,26.72 493.38,27.26 494.03,27.91 C494.68,28.55 494.68,29.63 492.74,30.49 C490.8,31.35 485.2,31.68 482.4,33.08 C479.6,34.48 478.09,36.42 475.94,38.89 C473.78,41.37 471.63,45.78 469.48,47.94 C467.32,50.09 465.17,50.52 463.02,51.82 C460.86,53.11 458.49,54.18 456.55,55.69 C454.62,57.2 453.11,59.14 451.38,60.86 C449.66,62.58 447.94,65.06 446.22,66.03 C444.49,67 443.16,66.68 441.05,66.68 C438.94,66.68 434.8,73.03 433.55,66.03 C432.3,59.03 432.3,31.25 433.55,24.68Z" fill="#ececec" stroke="#555" stroke-width="0.5"/>
<path d="M434.63,26.4 C435.76,20.46 438.92,27.57 441.42,28.15 C443.91,28.74 446.68,29.52 449.6,29.91 C452.52,30.3 456.03,30.59 458.95,30.49 C461.88,30.39 464.22,29.62 467.14,29.32 C470.06,29.03 473.57,28.93 476.49,28.74 C479.42,28.54 482.53,28.06 484.68,28.15 C486.82,28.25 488.77,28.74 489.35,29.32 C489.94,29.91 489.94,30.88 488.18,31.66 C486.43,32.44 481.36,32.73 478.83,34 C476.3,35.27 474.93,37.02 472.98,39.26 C471.04,41.5 469.09,45.5 467.14,47.45 C465.19,49.39 463.24,49.78 461.29,50.95 C459.34,52.12 457.2,53.1 455.45,54.46 C453.69,55.83 452.33,57.58 450.77,59.14 C449.21,60.7 447.65,62.94 446.09,63.82 C444.53,64.69 443.33,64.4 441.42,64.4 C439.51,64.4 435.76,70.15 434.63,63.82 C433.5,57.48 433.5,32.34 434.63,26.4Z" fill="#e6e6e6" stroke="#555" stroke-width="0.5"/>
<path d="M435.72,28.12 C436.73,22.81 439.55,29.17 441.78,29.69 C444.02,30.22 446.49,30.91 449.11,31.26 C451.72,31.61 454.86,31.87 457.48,31.78 C460.09,31.7 462.18,31 464.8,30.74 C467.42,30.48 470.55,30.39 473.17,30.22 C475.78,30.04 478.57,29.61 480.49,29.69 C482.41,29.78 484.15,30.22 484.68,30.74 C485.2,31.26 485.2,32.13 483.63,32.83 C482.06,33.53 477.53,33.79 475.26,34.92 C472.99,36.06 471.77,37.63 470.03,39.63 C468.29,41.64 466.54,45.21 464.8,46.95 C463.06,48.7 461.31,49.05 459.57,50.09 C457.83,51.14 455.91,52.01 454.34,53.23 C452.77,54.45 451.55,56.02 450.15,57.42 C448.76,58.81 447.36,60.82 445.97,61.6 C444.57,62.38 443.49,62.12 441.78,62.12 C440.08,62.12 436.73,67.27 435.72,61.6 C434.71,55.93 434.71,33.44 435.72,28.12Z" fill="#e0e0e0" stroke="#555" stroke-width="0.5"/>
<path d="M436.8,29.85 C437.69,25.15 440.18,30.77 442.15,31.23 C444.12,31.69 446.31,32.31 448.62,32.62 C450.92,32.92 453.69,33.15 456,33.08 C458.31,33 460.15,32.38 462.46,32.15 C464.77,31.92 467.54,31.85 469.85,31.69 C472.15,31.54 474.62,31.15 476.31,31.23 C478,31.31 479.54,31.69 480,32.15 C480.46,32.62 480.46,33.38 479.08,34 C477.69,34.62 473.69,34.85 471.69,35.85 C469.69,36.85 468.62,38.23 467.08,40 C465.54,41.77 464,44.92 462.46,46.46 C460.92,48 459.38,48.31 457.85,49.23 C456.31,50.15 454.62,50.92 453.23,52 C451.85,53.08 450.77,54.46 449.54,55.69 C448.31,56.92 447.08,58.69 445.85,59.38 C444.62,60.08 443.66,59.85 442.15,59.85 C440.65,59.85 437.69,64.38 436.8,59.38 C435.91,54.38 435.91,34.54 436.8,29.85Z" fill="#dadada" stroke="#555" stroke-width="0.5"/>
<path d="M437.88,31.57 C438.66,27.5 440.82,32.37 442.52,32.77 C444.23,33.17 446.12,33.7 448.12,33.97 C450.12,34.24 452.52,34.44 454.52,34.37 C456.52,34.3 458.12,33.77 460.12,33.57 C462.12,33.37 464.52,33.3 466.52,33.17 C468.52,33.04 470.66,32.7 472.12,32.77 C473.59,32.84 474.92,33.17 475.32,33.57 C475.72,33.97 475.72,34.64 474.52,35.17 C473.32,35.7 469.86,35.9 468.12,36.77 C466.39,37.64 465.46,38.84 464.12,40.37 C462.79,41.9 461.46,44.64 460.12,45.97 C458.79,47.3 457.46,47.57 456.12,48.37 C454.79,49.17 453.32,49.84 452.12,50.77 C450.92,51.7 449.99,52.9 448.92,53.97 C447.86,55.04 446.79,56.57 445.72,57.17 C444.66,57.77 443.83,57.57 442.52,57.57 C441.22,57.57 438.66,61.5 437.88,57.17 C437.11,52.84 437.11,35.64 437.88,31.57Z" fill="#d4d4d4" stroke="#555" stroke-width="0.5"/>
<path d="M438.97,33.29 C439.62,29.85 441.45,33.97 442.89,34.31 C444.34,34.65 445.94,35.1 447.63,35.32 C449.32,35.55 451.35,35.72 453.05,35.66 C454.74,35.61 456.09,35.15 457.78,34.98 C459.48,34.82 461.51,34.76 463.2,34.65 C464.89,34.53 466.7,34.25 467.94,34.31 C469.18,34.36 470.31,34.65 470.65,34.98 C470.98,35.32 470.98,35.89 469.97,36.34 C468.95,36.79 466.02,36.96 464.55,37.69 C463.09,38.43 462.3,39.44 461.17,40.74 C460.04,42.04 458.91,44.35 457.78,45.48 C456.66,46.61 455.53,46.83 454.4,47.51 C453.27,48.18 452.03,48.75 451.02,49.54 C450,50.33 449.21,51.34 448.31,52.25 C447.41,53.15 446.5,54.45 445.6,54.95 C444.7,55.46 444,55.29 442.89,55.29 C441.79,55.29 439.62,58.62 438.97,54.95 C438.31,51.29 438.31,36.73 438.97,33.29Z" fill="#cecece" stroke="#555" stroke-width="0.5"/>
<path d="M440.05,35.02 C440.58,32.2 442.08,35.57 443.26,35.85 C444.44,36.12 445.75,36.49 447.14,36.68 C448.52,36.86 450.18,37 451.57,36.95 C452.95,36.91 454.06,36.54 455.45,36.4 C456.83,36.26 458.49,36.22 459.88,36.12 C461.26,36.03 462.74,35.8 463.75,35.85 C464.77,35.89 465.69,36.12 465.97,36.4 C466.25,36.68 466.25,37.14 465.42,37.51 C464.58,37.88 462.18,38.02 460.98,38.62 C459.78,39.22 459.14,40.05 458.22,41.11 C457.29,42.17 456.37,44.06 455.45,44.98 C454.52,45.91 453.6,46.09 452.68,46.65 C451.75,47.2 450.74,47.66 449.91,48.31 C449.08,48.95 448.43,49.78 447.69,50.52 C446.95,51.26 446.22,52.32 445.48,52.74 C444.74,53.15 444.17,53.02 443.26,53.02 C442.36,53.02 440.58,55.74 440.05,52.74 C439.51,49.74 439.51,37.83 440.05,35.02Z" fill="#c8c8c8" stroke="#555" stroke-width="0.5"/>
<path d="M462.62,30.46 C463.44,28.28 466.08,28.41 468,28.15 C469.92,27.9 472.36,28.41 474.15,28.92 C475.95,29.44 478.26,29.69 478.77,31.23 C479.28,32.77 478,35.97 477.23,38.15 C476.46,40.33 475.44,42.38 474.15,44.31 C472.87,46.23 471.08,49.05 469.54,49.69 C468,50.33 466,49.56 464.92,48.15 C463.85,46.74 463.46,44.18 463.08,41.23 C462.69,38.28 461.79,32.64 462.62,30.46Z" fill="none" stroke="#444" stroke-width="0.5"/>
<path d="M464.92,33.54 C465.77,32.26 468.64,31.23 470.31,31.23 C471.97,31.23 474.28,32.13 474.92,33.54 C475.56,34.95 474.92,37.77 474.15,39.69 C473.38,41.62 471.59,44.44 470.31,45.08 C469.03,45.72 467.31,44.56 466.46,43.54 C465.62,42.51 465.49,40.59 465.23,38.92 C464.97,37.26 464.08,34.82 464.92,33.54Z" fill="none" stroke="#444" stroke-width="0.5"/>
<path d="M466.46,36.62 C467.1,35.59 470.05,34.69 471.08,35.08 C472.1,35.46 472.87,37.64 472.62,38.92 C472.36,40.21 470.44,42.38 469.54,42.77 C468.64,43.15 467.74,42.26 467.23,41.23 C466.72,40.21 465.82,37.64 466.46,36.62Z" fill="none" stroke="#444" stroke-width="0.5"/>
<path d="M434.15,28.92 C435.31,26.36 439.28,26.87 441.85,27.38 C444.41,27.9 447.74,29.95 449.54,32 C451.33,34.05 452.87,37.13 452.62,39.69 C452.36,42.26 450.05,45.85 448,47.38 C445.95,48.92 442.49,49.69 440.31,48.92 C438.13,48.15 435.95,46.1 434.92,42.77 C433.9,39.44 433,31.49 434.15,28.92Z" fill="none" stroke="#444" stroke-width="0.5"/>
<path d="M437.23,32 C438.26,30.59 441.59,30.46 443.38,31.23 C445.18,32 447.49,34.69 448,36.62 C448.51,38.54 447.62,41.36 446.46,42.77 C445.31,44.18 442.62,45.59 441.08,45.08 C439.54,44.56 437.87,41.87 437.23,39.69 C436.59,37.51 436.21,33.41 437.23,32Z" fill="none" stroke="#444" stroke-width="0.5"/>
<path d="M451.08,30.46 C452.36,29.18 458.51,28.15 460.31,28.92 C462.1,29.69 462.36,33.28 461.85,35.08 C461.33,36.87 458.77,39.44 457.23,39.69 C455.69,39.95 453.64,38.15 452.62,36.62 C451.59,35.08 449.79,31.74 451.08,30.46Z" fill="none" stroke="#444" stroke-width="0.5"/>
<ellipse cx="445.7" cy="58.6" rx="6" ry="6" fill="#9a9a9a" stroke="#333" stroke-width="0.4"/>
<ellipse cx="445.7" cy="58.6" rx="4.6" ry="4.6" fill="#555" stroke="#333" stroke-width="0.4"/>
<ellipse cx="445.7" cy="58.6" rx="3.4" ry="3.4" fill="#2a2a2a" stroke="#333" stroke-width="0.4"/>
<ellipse cx="445.7" cy="58.6" rx="2" ry="2" fill="#c8c8c8" stroke="#333" stroke-width="0.4"/>
<path d="M432,22 C435,26 437,29 439.5,33 C441,36 440,40 438,44 M434,46 C438,50 442,54 446,56" fill="none" stroke="#333" stroke-width="0.9"/>
<path d="M431.6,24 L431.6,70" fill="none" stroke="#555" stroke-width="1"/>
<path d="M433.5,26 C435,40 434,55 433.5,68" fill="none" stroke="#666" stroke-width="0.6"/>
<ellipse cx="461.4" cy="45" rx="1.6" ry="1.6" fill="#444"/>
<ellipse cx="466" cy="37" rx="1.3" ry="1.8" fill="#666"/>
<path d="M354.4,128.9 C354.92,127.32 357.68,124.03 361.5,122.6 C365.32,121.17 372.03,121.22 377.3,120.3 C382.57,119.38 388.37,118.03 393.1,117.1 C397.83,116.17 402.97,114.97 405.7,114.7 C408.43,114.43 408.87,111.55 409.5,115.5 C410.13,119.45 411.72,134.32 409.5,138.4 C407.28,142.48 400.78,140.13 396.2,140 C391.62,139.87 386.47,138.53 382,137.6 C377.53,136.67 373.33,135.32 369.4,134.4 C365.47,133.48 360.9,133.02 358.4,132.1 C355.9,131.18 353.88,130.48 354.4,128.9Z" fill="#fbfbfb" stroke="#555" stroke-width="0.55"/>
<path d="M362.18,128.28 C362.61,126.95 364.93,124.19 368.14,122.98 C371.35,121.78 376.99,121.82 381.41,121.05 C385.84,120.28 390.71,119.15 394.68,118.36 C398.66,117.58 402.97,116.57 405.27,116.35 C407.56,116.12 407.93,113.7 408.46,117.02 C408.99,120.34 410.32,132.83 408.46,136.26 C406.6,139.69 401.14,137.71 397.29,137.6 C393.44,137.49 389.11,136.37 385.36,135.58 C381.61,134.8 378.08,133.67 374.78,132.9 C371.47,132.13 367.64,131.73 365.54,130.96 C363.44,130.19 361.74,129.61 362.18,128.28Z" fill="#f3f3f3" stroke="#555" stroke-width="0.55"/>
<path d="M369.47,127.69 C369.82,126.6 371.73,124.33 374.37,123.34 C377,122.35 381.63,122.39 385.27,121.76 C388.9,121.12 392.9,120.19 396.17,119.55 C399.44,118.9 402.98,118.08 404.86,117.89 C406.75,117.71 407.05,115.72 407.49,118.44 C407.92,121.17 409.01,131.43 407.49,134.25 C405.96,137.06 401.47,135.44 398.31,135.35 C395.15,135.26 391.59,134.34 388.51,133.69 C385.43,133.05 382.53,132.12 379.82,131.49 C377.1,130.85 373.95,130.53 372.23,129.9 C370.5,129.27 369.11,128.78 369.47,127.69Z" fill="#e6e6e6" stroke="#555" stroke-width="0.55"/>
<path d="M376.27,127.15 C376.55,126.27 378.08,124.47 380.18,123.68 C382.27,122.89 385.97,122.92 388.87,122.41 C391.76,121.91 394.95,121.17 397.56,120.66 C400.16,120.14 402.98,119.48 404.49,119.34 C405.99,119.19 406.23,117.6 406.57,119.78 C406.92,121.95 407.79,130.12 406.57,132.37 C405.36,134.62 401.78,133.32 399.26,133.25 C396.74,133.18 393.91,132.44 391.45,131.93 C388.99,131.42 386.68,130.67 384.52,130.17 C382.36,129.67 379.84,129.41 378.47,128.91 C377.09,128.4 375.99,128.02 376.27,127.15Z" fill="#d0d0d0" stroke="#555" stroke-width="0.55"/>
<path d="M382.1,126.68 C382.32,126 383.51,124.58 385.15,123.97 C386.8,123.35 389.68,123.37 391.95,122.98 C394.21,122.58 396.71,122 398.74,121.6 C400.78,121.2 402.99,120.69 404.16,120.57 C405.34,120.46 405.52,119.22 405.8,120.92 C406.07,122.61 406.75,129.01 405.8,130.76 C404.84,132.52 402.05,131.51 400.08,131.45 C398.11,131.39 395.89,130.82 393.97,130.42 C392.05,130.02 390.24,129.44 388.55,129.04 C386.86,128.65 384.9,128.45 383.82,128.05 C382.75,127.66 381.88,127.36 382.1,126.68Z" fill="#b0b0b0" stroke="#555" stroke-width="0.55"/>
<path d="M386.96,126.29 C387.13,125.76 388.05,124.68 389.31,124.21 C390.56,123.73 392.78,123.75 394.52,123.45 C396.26,123.15 398.17,122.7 399.73,122.39 C401.3,122.09 402.99,121.69 403.89,121.6 C404.79,121.51 404.94,120.56 405.14,121.86 C405.35,123.17 405.88,128.07 405.14,129.42 C404.41,130.77 402.27,129.99 400.76,129.95 C399.24,129.91 397.54,129.47 396.07,129.16 C394.6,128.85 393.21,128.4 391.91,128.1 C390.61,127.8 389.11,127.65 388.28,127.34 C387.46,127.04 386.79,126.81 386.96,126.29Z" fill="#888" stroke="#555" stroke-width="0.55"/>
<path d="M391.34,125.94 C391.46,125.56 392.12,124.77 393.04,124.42 C393.96,124.08 395.57,124.09 396.83,123.87 C398.1,123.65 399.49,123.33 400.62,123.1 C401.76,122.88 402.99,122.59 403.65,122.53 C404.3,122.46 404.41,121.77 404.56,122.72 C404.71,123.67 405.09,127.24 404.56,128.22 C404.03,129.2 402.47,128.63 401.37,128.6 C400.27,128.57 399.03,128.25 397.96,128.02 C396.89,127.8 395.88,127.48 394.94,127.26 C393.99,127.04 392.9,126.92 392.3,126.7 C391.7,126.48 391.21,126.32 391.34,125.94Z" fill="#555" stroke="#555" stroke-width="0.55"/>
<path d="M395.22,125.62 C395.31,125.37 395.75,124.85 396.36,124.62 C396.97,124.39 398.05,124.39 398.89,124.25 C399.73,124.1 400.66,123.89 401.42,123.74 C402.17,123.59 402.99,123.39 403.43,123.35 C403.87,123.31 403.94,122.85 404.04,123.48 C404.14,124.11 404.39,126.49 404.04,127.14 C403.69,127.8 402.65,127.42 401.91,127.4 C401.18,127.38 400.35,127.17 399.64,127.02 C398.93,126.87 398.25,126.65 397.62,126.5 C396.99,126.36 396.26,126.28 395.86,126.14 C395.46,125.99 395.14,125.88 395.22,125.62Z" fill="#333" stroke="#555" stroke-width="0.55"/>
<path d="M337.1,155.7 C338.42,153.6 341.43,150.32 344.2,149.4 C346.97,148.48 350.82,150.07 353.7,150.2 C356.58,150.33 359.8,149.8 361.5,150.2 C363.2,150.6 364.28,151.68 363.9,152.6 C363.52,153.52 361.43,154.13 359.2,155.7 C356.97,157.27 353.27,159.88 350.5,162 C347.73,164.12 344.83,167.22 342.6,168.4 C340.37,169.58 338.15,170.17 337.1,169.1 C336.05,168.03 336.3,164.23 336.3,162 C336.3,159.77 335.78,157.8 337.1,155.7Z" fill="none" stroke="#555" stroke-width="0.55"/>
<path d="M340.4,156.06 C341.35,154.55 343.52,152.19 345.52,151.53 C347.51,150.87 350.28,152.01 352.36,152.1 C354.43,152.2 356.75,151.82 357.97,152.1 C359.2,152.39 359.98,153.17 359.7,153.83 C359.42,154.49 357.92,154.94 356.32,156.06 C354.71,157.19 352.04,159.08 350.05,160.6 C348.06,162.12 345.97,164.36 344.36,165.21 C342.76,166.06 341.16,166.48 340.4,165.71 C339.65,164.94 339.83,162.21 339.83,160.6 C339.83,158.99 339.46,157.58 340.4,156.06Z" fill="none" stroke="#555" stroke-width="0.55"/>
<path d="M343.59,156.41 C344.18,155.47 345.54,153.99 346.78,153.58 C348.03,153.17 349.76,153.88 351.06,153.94 C352.36,154 353.81,153.76 354.57,153.94 C355.33,154.12 355.82,154.61 355.65,155.02 C355.48,155.43 354.54,155.71 353.53,156.41 C352.53,157.12 350.87,158.3 349.62,159.25 C348.38,160.2 347.07,161.6 346.06,162.13 C345.06,162.66 344.06,162.92 343.59,162.44 C343.12,161.97 343.23,160.25 343.23,159.25 C343.23,158.25 343,157.36 343.59,156.41Z" fill="none" stroke="#555" stroke-width="0.55"/>
<path d="M346.54,156.74 C346.8,156.32 347.41,155.66 347.96,155.48 C348.51,155.3 349.28,155.61 349.86,155.64 C350.44,155.67 351.08,155.56 351.42,155.64 C351.76,155.72 351.98,155.94 351.9,156.12 C351.82,156.3 351.41,156.43 350.96,156.74 C350.51,157.05 349.77,157.58 349.22,158 C348.67,158.42 348.09,159.04 347.64,159.28 C347.19,159.52 346.75,159.63 346.54,159.42 C346.33,159.21 346.38,158.45 346.38,158 C346.38,157.55 346.28,157.16 346.54,156.74Z" fill="none" stroke="#555" stroke-width="0.55"/>
<path d="M450.8,138.5 C451.57,136.57 457.72,133.43 463.1,131.5 C468.48,129.57 477.2,128.43 483.1,126.9 C489,125.37 494.4,123.07 498.5,122.3 C502.6,121.53 505.4,121.53 507.7,122.3 C510,123.07 511.53,123.82 512.3,126.9 C513.07,129.98 513.07,137.47 512.3,140.8 C511.53,144.13 508.98,145.75 507.7,146.9 C506.42,148.05 505.63,148.47 504.6,147.7 C503.57,146.93 504.57,143.07 501.5,142.3 C498.43,141.53 491.32,142.85 486.2,143.1 C481.08,143.35 475.42,143.8 470.8,143.8 C466.18,143.8 461.83,143.98 458.5,143.1 C455.17,142.22 450.03,140.43 450.8,138.5Z" fill="#fbfbfb" stroke="#555" stroke-width="0.55"/>
<path d="M458.39,137.87 C459.05,136.21 464.34,133.51 468.97,131.85 C473.6,130.19 481.09,129.21 486.17,127.89 C491.24,126.58 495.88,124.6 499.41,123.94 C502.94,123.28 505.34,123.28 507.32,123.94 C509.3,124.6 510.62,125.24 511.28,127.89 C511.94,130.55 511.94,136.98 511.28,139.85 C510.62,142.71 508.43,144.1 507.32,145.09 C506.22,146.08 505.54,146.44 504.66,145.78 C503.77,145.12 504.63,141.8 501.99,141.14 C499.35,140.48 493.23,141.61 488.83,141.83 C484.43,142.04 479.56,142.43 475.59,142.43 C471.62,142.43 467.88,142.59 465.01,141.83 C462.14,141.07 457.73,139.53 458.39,137.87Z" fill="#f0f0f0" stroke="#555" stroke-width="0.55"/>
<path d="M465.43,137.28 C465.99,135.87 470.48,133.59 474.41,132.18 C478.34,130.76 484.71,129.94 489.01,128.82 C493.32,127.7 497.26,126.02 500.25,125.46 C503.25,124.9 505.29,124.9 506.97,125.46 C508.65,126.02 509.77,126.57 510.33,128.82 C510.89,131.07 510.89,136.53 510.33,138.96 C509.77,141.4 507.91,142.58 506.97,143.42 C506.03,144.26 505.46,144.56 504.71,144 C503.95,143.44 504.68,140.62 502.44,140.06 C500.21,139.5 495.01,140.46 491.28,140.64 C487.54,140.83 483.4,141.15 480.03,141.15 C476.66,141.15 473.49,141.29 471.06,140.64 C468.62,140 464.87,138.7 465.43,137.28Z" fill="#e0e0e0" stroke="#555" stroke-width="0.55"/>
<path d="M471.94,136.75 C472.41,135.57 476.16,133.65 479.44,132.47 C482.72,131.3 488.04,130.6 491.64,129.67 C495.24,128.73 498.53,127.33 501.04,126.86 C503.54,126.4 505.24,126.4 506.65,126.86 C508.05,127.33 508.99,127.79 509.45,129.67 C509.92,131.55 509.92,136.11 509.45,138.15 C508.99,140.18 507.43,141.17 506.65,141.87 C505.86,142.57 505.39,142.82 504.76,142.36 C504.13,141.89 504.74,139.53 502.87,139.06 C500.99,138.6 496.65,139.4 493.53,139.55 C490.41,139.7 486.95,139.98 484.14,139.98 C481.32,139.98 478.67,140.09 476.63,139.55 C474.6,139.01 471.47,137.92 471.94,136.75Z" fill="#c8c8c8" stroke="#555" stroke-width="0.55"/>
<path d="M477.9,136.25 C478.28,135.28 481.36,133.72 484.05,132.75 C486.74,131.78 491.1,131.22 494.05,130.45 C497,129.68 499.7,128.53 501.75,128.15 C503.8,127.77 505.2,127.77 506.35,128.15 C507.5,128.53 508.27,128.91 508.65,130.45 C509.03,131.99 509.03,135.73 508.65,137.4 C508.27,139.07 506.99,139.88 506.35,140.45 C505.71,141.02 505.32,141.23 504.8,140.85 C504.28,140.47 504.78,138.53 503.25,138.15 C501.72,137.77 498.16,138.43 495.6,138.55 C493.04,138.68 490.21,138.9 487.9,138.9 C485.59,138.9 483.42,138.99 481.75,138.55 C480.08,138.11 477.52,137.22 477.9,136.25Z" fill="#a8a8a8" stroke="#555" stroke-width="0.55"/>
<path d="M483.32,135.8 C483.63,135.03 486.09,133.77 488.24,133 C490.39,132.23 493.88,131.77 496.24,131.16 C498.6,130.55 500.76,129.63 502.4,129.32 C504.04,129.01 505.16,129.01 506.08,129.32 C507,129.63 507.61,129.93 507.92,131.16 C508.23,132.39 508.23,135.39 507.92,136.72 C507.61,138.05 506.59,138.7 506.08,139.16 C505.57,139.62 505.25,139.79 504.84,139.48 C504.43,139.17 504.83,137.63 503.6,137.32 C502.37,137.01 499.53,137.54 497.48,137.64 C495.43,137.74 493.17,137.92 491.32,137.92 C489.47,137.92 487.73,137.99 486.4,137.64 C485.07,137.29 483.01,136.57 483.32,135.8Z" fill="#808080" stroke="#555" stroke-width="0.55"/>
<path d="M488.2,135.4 C488.44,134.8 490.34,133.82 492.01,133.22 C493.68,132.63 496.38,132.27 498.21,131.8 C500.04,131.32 501.71,130.61 502.99,130.37 C504.26,130.14 505.12,130.14 505.84,130.37 C506.55,130.61 507.03,130.84 507.26,131.8 C507.5,132.75 507.5,135.07 507.26,136.11 C507.03,137.14 506.23,137.64 505.84,138 C505.44,138.36 505.2,138.48 504.88,138.25 C504.56,138.01 504.87,136.81 503.92,136.57 C502.96,136.34 500.76,136.74 499.17,136.82 C497.59,136.9 495.83,137.04 494.4,137.04 C492.97,137.04 491.62,137.09 490.58,136.82 C489.55,136.55 487.96,135.99 488.2,135.4Z" fill="#5a5a5a" stroke="#555" stroke-width="0.55"/>
<path d="M493.08,134.99 C493.24,134.56 494.6,133.88 495.78,133.45 C496.97,133.02 498.88,132.78 500.18,132.44 C501.48,132.1 502.67,131.59 503.57,131.43 C504.47,131.26 505.09,131.26 505.59,131.43 C506.1,131.59 506.44,131.76 506.61,132.44 C506.77,133.12 506.77,134.76 506.61,135.5 C506.44,136.23 505.88,136.58 505.59,136.84 C505.31,137.09 505.14,137.18 504.91,137.01 C504.68,136.85 504.9,135.99 504.23,135.83 C503.56,135.66 501.99,135.95 500.86,136 C499.74,136.06 498.49,136.16 497.48,136.16 C496.46,136.16 495.5,136.2 494.77,136 C494.04,135.81 492.91,135.42 493.08,134.99Z" fill="#3a3a3a" stroke="#555" stroke-width="0.55"/>
<path d="M497.41,134.63 C497.52,134.36 498.38,133.92 499.13,133.65 C499.89,133.38 501.11,133.22 501.93,133.01 C502.76,132.79 503.52,132.47 504.09,132.36 C504.66,132.25 505.06,132.25 505.38,132.36 C505.7,132.47 505.91,132.57 506.02,133.01 C506.13,133.44 506.13,134.49 506.02,134.95 C505.91,135.42 505.56,135.65 505.38,135.81 C505.2,135.97 505.09,136.03 504.94,135.92 C504.8,135.81 504.94,135.27 504.51,135.16 C504.08,135.05 503.08,135.24 502.37,135.27 C501.65,135.31 500.86,135.37 500.21,135.37 C499.57,135.37 498.96,135.4 498.49,135.27 C498.02,135.15 497.3,134.9 497.41,134.63Z" fill="#222" stroke="#555" stroke-width="0.55"/>
<rect x="326.5" y="13.5" width="86" height="84" fill="none" stroke="#666" stroke-width="0.9"/>
<path d="M358.5,13.5 L358.5,61.3 L379.5,61.3 M379.5,13.5 L379.5,97.5 M379.5,48.3 L412.5,48.3 M379.5,69.6 L412.5,69.6" fill="none" stroke="#666" stroke-width="0.9"/>
<rect x="430.8" y="13.8" width="85.5" height="83.7" fill="none" stroke="#666" stroke-width="0.9"/>
<path d="M462.8,13.8 L462.8,61.4 L483.9,61.4 M483.9,13.8 L483.9,97.5 M483.9,48.2 L516.3,48.2 M483.9,69.4 L516.3,69.4" fill="none" stroke="#666" stroke-width="0.9"/>
<rect x="325.5" y="106.6" width="85.3" height="85.4" fill="none" stroke="#666" stroke-width="0.9"/>
<path d="M356.7,106.6 L356.7,154 L378.5,154 M378.5,106.6 L378.5,192 M378.5,142.2 L410.8,142.2 M378.5,162.8 L410.8,162.8" fill="none" stroke="#666" stroke-width="0.9"/>
<rect x="430.8" y="106.9" width="85.5" height="85.3" fill="none" stroke="#666" stroke-width="0.9"/>
<path d="M462.2,106.9 L462.2,154 L484.4,154 M484.4,106.9 L484.4,192.2 M484.4,141.6 L516.3,141.6 M484.4,163.4 L516.3,163.4" fill="none" stroke="#666" stroke-width="0.9"/>
<text x="360.7" y="22.9" font-size="8.1" text-anchor="start" font-weight="bold" fill="#111" textLength="15.3" lengthAdjust="spacingAndGlyphs">7.09</text>
<text x="381.9" y="22.9" font-size="8.1" text-anchor="start" font-weight="bold" fill="#111" textLength="15.7" lengthAdjust="spacingAndGlyphs">1.74</text>
<text x="381.3" y="56.7" font-size="8.1" text-anchor="start" font-weight="bold" fill="#111" textLength="19.2" lengthAdjust="spacingAndGlyphs">0.025</text>
<text x="464.2" y="22.9" font-size="8.1" text-anchor="start" font-weight="bold" fill="#111" textLength="14.8" lengthAdjust="spacingAndGlyphs">19.2</text>
<text x="485.8" y="22.9" font-size="8.1" text-anchor="start" font-weight="bold" fill="#111" textLength="15.7" lengthAdjust="spacingAndGlyphs">5.37</text>
<text x="486.8" y="57.2" font-size="8.1" text-anchor="start" font-weight="bold" fill="#111" textLength="13.7" lengthAdjust="spacingAndGlyphs">0.11</text>
<text x="357.3" y="115.6" font-size="8.1" text-anchor="start" font-weight="bold" fill="#111" textLength="15.4" lengthAdjust="spacingAndGlyphs">6.63</text>
<text x="380.5" y="115.2" font-size="8.1" text-anchor="start" font-weight="bold" fill="#111" textLength="14.5" lengthAdjust="spacingAndGlyphs">85.1</text>
<text x="382.9" y="150" font-size="8.1" text-anchor="start" font-weight="bold" fill="#111" textLength="14.7" lengthAdjust="spacingAndGlyphs">0.19</text>
<text x="380.5" y="171.6" font-size="8.1" text-anchor="start" font-weight="bold" fill="#111" textLength="19.1" lengthAdjust="spacingAndGlyphs">0.031</text>
<text x="463.6" y="116.6" font-size="8.1" text-anchor="start" font-weight="bold" fill="#111" textLength="14.9" lengthAdjust="spacingAndGlyphs">13.7</text>
<text x="485.8" y="116.6" font-size="8.1" text-anchor="start" font-weight="bold" fill="#111" textLength="15.2" lengthAdjust="spacingAndGlyphs">79.6</text>
<text x="487.2" y="151.2" font-size="8.1" text-anchor="start" font-weight="bold" fill="#111" textLength="13.3" lengthAdjust="spacingAndGlyphs">3.57</text>
<text x="487.2" y="171.6" font-size="8.1" text-anchor="start" font-weight="bold" fill="#111" textLength="14.3" lengthAdjust="spacingAndGlyphs">0.18</text>
<text x="399.7" y="45.2" font-size="11" text-anchor="start" font-weight="normal" fill="#111" textLength="9.6" lengthAdjust="spacingAndGlyphs">II.</text>
<text x="368.7" y="60" font-size="11" text-anchor="start" font-weight="normal" fill="#111" textLength="7.2" lengthAdjust="spacingAndGlyphs">I.</text>
<text x="395.8" y="68.8" font-size="11" text-anchor="start" font-weight="normal" fill="#111" textLength="12.6" lengthAdjust="spacingAndGlyphs">III.</text>
<text x="394.3" y="94.4" font-size="11" text-anchor="start" font-weight="normal" fill="#111" textLength="13.1" lengthAdjust="spacingAndGlyphs">IV.</text>
<text x="506.4" y="45.3" font-size="11" text-anchor="start" font-weight="normal" fill="#111" textLength="9.6" lengthAdjust="spacingAndGlyphs">II.</text>
<text x="477" y="60" font-size="11" text-anchor="start" font-weight="normal" fill="#111" textLength="6.2" lengthAdjust="spacingAndGlyphs">I.</text>
<text x="503.5" y="68.8" font-size="11" text-anchor="start" font-weight="normal" fill="#111" textLength="12.5" lengthAdjust="spacingAndGlyphs">III.</text>
<text x="501.5" y="94.4" font-size="11" text-anchor="start" font-weight="normal" fill="#111" textLength="14" lengthAdjust="spacingAndGlyphs">IV.</text>
<text x="400.5" y="137.2" font-size="11" text-anchor="start" font-weight="normal" fill="#111" textLength="8.9" lengthAdjust="spacingAndGlyphs">II.</text>
<text x="369" y="153" font-size="11" text-anchor="start" font-weight="normal" fill="#111" textLength="7" lengthAdjust="spacingAndGlyphs">I.</text>
<text x="395.6" y="160.8" font-size="11" text-anchor="start" font-weight="normal" fill="#111" textLength="12.8" lengthAdjust="spacingAndGlyphs">III.</text>
<text x="394.3" y="187.3" font-size="11" text-anchor="start" font-weight="normal" fill="#111" textLength="13.1" lengthAdjust="spacingAndGlyphs">IV.</text>
<text x="508" y="139.8" font-size="11" text-anchor="start" font-weight="normal" fill="#111" textLength="8.3" lengthAdjust="spacingAndGlyphs">II.</text>
<text x="478" y="153" font-size="11" text-anchor="start" font-weight="normal" fill="#111" textLength="5.5" lengthAdjust="spacingAndGlyphs">I.</text>
<text x="504" y="160.8" font-size="11" text-anchor="start" font-weight="normal" fill="#111" textLength="12" lengthAdjust="spacingAndGlyphs">III.</text>
<text x="502.5" y="187.3" font-size="11" text-anchor="start" font-weight="normal" fill="#111" textLength="13.5" lengthAdjust="spacingAndGlyphs">IV.</text>
<defs>
<radialGradient id="ga" cx="50%" cy="45%" r="55%"><stop offset="0" stop-color="#5c46ac"/><stop offset="0.7" stop-color="#45319a"/><stop offset="1" stop-color="#301c7c"/></radialGradient>
<radialGradient id="gb" cx="55%" cy="55%" r="55%"><stop offset="0" stop-color="#9c90d4"/><stop offset="0.45" stop-color="#6452b0"/><stop offset="1" stop-color="#36228a"/></radialGradient>
<radialGradient id="gc" cx="50%" cy="50%" r="55%"><stop offset="0" stop-color="#442e90"/><stop offset="1" stop-color="#2c186c"/></radialGradient>
<radialGradient id="gd" cx="50%" cy="50%" r="50%"><stop offset="0" stop-color="#9a68b8"/><stop offset="0.45" stop-color="#c29cd2"/><stop offset="1" stop-color="#efe6f0" stop-opacity="0"/></radialGradient>
<radialGradient id="ge" cx="50%" cy="50%" r="55%"><stop offset="0" stop-color="#c4bce2"/><stop offset="1" stop-color="#8e82c4"/></radialGradient>
<radialGradient id="gf" cx="50%" cy="50%" r="55%"><stop offset="0" stop-color="#8a5eb2"/><stop offset="0.7" stop-color="#623f9a"/><stop offset="1" stop-color="#42267e"/></radialGradient>
<radialGradient id="gg" cx="55%" cy="58%" r="55%"><stop offset="0" stop-color="#cab2de"/><stop offset="0.5" stop-color="#8866b8"/><stop offset="1" stop-color="#4c2c8a"/></radialGradient>
<linearGradient id="ld" x1="0" y1="0" x2="0.3" y2="1"><stop offset="0" stop-color="#3e2a8e"/><stop offset="0.45" stop-color="#5a48a8"/><stop offset="0.75" stop-color="#9a90d0"/><stop offset="1" stop-color="#a8a0d8"/></linearGradient>
<linearGradient id="lr" x1="0" y1="0.2" x2="1" y2="0.6"><stop offset="0" stop-color="#34228a"/><stop offset="0.5" stop-color="#4a3a9e"/><stop offset="1" stop-color="#8a80c8"/></linearGradient>
<linearGradient id="lbr" x1="0" y1="0" x2="1" y2="1"><stop offset="0" stop-color="#36248a"/><stop offset="0.5" stop-color="#5a4aa8"/><stop offset="1" stop-color="#9a92d0"/></linearGradient>
<radialGradient id="gh" cx="50%" cy="50%" r="55%"><stop offset="0" stop-color="#382488"/><stop offset="1" stop-color="#241266"/></radialGradient>

<clipPath id="c1"><rect x="203.8" y="264.2" width="133.2" height="100.4"/></clipPath>
<clipPath id="c2"><rect x="359.2" y="264.6" width="132.3" height="99.4"/></clipPath>
<clipPath id="c3"><rect x="49" y="407.8" width="132.7" height="101.2"/></clipPath>
<clipPath id="c4"><rect x="204.3" y="408.2" width="132.2" height="100.8"/></clipPath>
<clipPath id="c5"><rect x="359.1" y="408.2" width="132.2" height="100.8"/></clipPath>
</defs>
<rect x="203.8" y="264.2" width="133.2" height="100.4" fill="#f3f3f5"/>
<rect x="359.2" y="264.6" width="132.3" height="99.4" fill="#f2f2f3"/>
<rect x="49" y="407.8" width="132.7" height="101.2" fill="#f2ecf2"/>
<rect x="204.3" y="408.2" width="132.2" height="100.8" fill="#f0f0ee"/>
<rect x="359.1" y="408.2" width="132.2" height="100.8" fill="#ecebf0"/>
<text x="55.5" y="261.2" font-size="20" text-anchor="start" font-weight="bold" fill="#000" textLength="14.3" lengthAdjust="spacingAndGlyphs">C</text>
<text x="211.5" y="256" font-size="11.5" text-anchor="start" font-weight="bold" fill="#111" textLength="112.3" lengthAdjust="spacingAndGlyphs">NORMAL BM DAY 7</text>
<text x="367" y="256.3" font-size="11.5" text-anchor="start" font-weight="bold" fill="#111" textLength="111" lengthAdjust="spacingAndGlyphs">NORMAL BM DAY 9</text>
<text x="95.4" y="399.4" font-size="11.5" text-anchor="start" font-weight="bold" fill="#111" textLength="53.9" lengthAdjust="spacingAndGlyphs">ET DAY 5</text>
<text x="251.3" y="399.4" font-size="11.5" text-anchor="start" font-weight="bold" fill="#111" textLength="52" lengthAdjust="spacingAndGlyphs">ET DAY 7</text>
<text x="406.2" y="399.5" font-size="11.5" text-anchor="start" font-weight="bold" fill="#111" textLength="52.6" lengthAdjust="spacingAndGlyphs">ET DAY 9</text>
<g clip-path="url(#c1)" stroke="#f3f1f6" stroke-width="0.8">
<ellipse cx="287.5" cy="279.7" rx="16.2" ry="15" fill="url(#lr)"/>
<ellipse cx="271.5" cy="307.2" rx="13.3" ry="15.5" fill="url(#lbr)" transform="rotate(20 271.5 307.2)"/>
<ellipse cx="304.5" cy="300" rx="11.5" ry="10.3" fill="url(#ga)" transform="rotate(-20 304.5 300)"/>
<ellipse cx="289.4" cy="309.5" rx="6.3" ry="6.2" fill="url(#gc)"/>
<ellipse cx="333" cy="296" rx="9" ry="10.8" fill="url(#ga)"/>
<ellipse cx="243.8" cy="337" rx="16.2" ry="16" fill="url(#ld)"/>
<ellipse cx="287.8" cy="331.2" rx="11.8" ry="11.8" fill="url(#lbr)"/>
<ellipse cx="299" cy="366" rx="15" ry="14" fill="url(#gc)"/>
</g>
<g clip-path="url(#c2)" stroke="#f3f1f6" stroke-width="0.8">
<ellipse cx="366.1" cy="274.1" rx="8.14" ry="9.57" fill="url(#ga)"/>
<ellipse cx="389.6" cy="275.5" rx="14.08" ry="12.54" fill="url(#gb)"/>
<ellipse cx="412.5" cy="273.4" rx="9.57" ry="8.8" fill="url(#ga)"/>
<ellipse cx="406.5" cy="288.9" rx="7.37" ry="7.15" fill="url(#ga)"/>
<ellipse cx="426.5" cy="288" rx="8.8" ry="11" fill="url(#gb)"/>
<ellipse cx="382.9" cy="300.4" rx="8.14" ry="7.37" fill="url(#gc)"/>
<ellipse cx="398.4" cy="300.4" rx="8.14" ry="8.14" fill="url(#ga)"/>
<ellipse cx="420" cy="312" rx="8.8" ry="14.3" fill="url(#ge)" transform="rotate(-30 420 312)"/>
<ellipse cx="381.6" cy="319" rx="14.08" ry="12.65" fill="url(#ga)"/>
<ellipse cx="453.9" cy="266.8" rx="7.7" ry="3.85" fill="url(#gc)"/>
<ellipse cx="460.1" cy="274.5" rx="10.67" ry="7.7" fill="url(#gb)"/>
<ellipse cx="480.2" cy="271.7" rx="12.1" ry="9.13" fill="url(#gb)"/>
<ellipse cx="445.5" cy="290.4" rx="8.36" ry="12.1" fill="url(#gb)"/>
<ellipse cx="466.3" cy="295.2" rx="12.98" ry="12.1" fill="url(#gb)"/>
<ellipse cx="476" cy="282.8" rx="6.05" ry="4.4" fill="url(#gc)"/>
<ellipse cx="487.1" cy="284.2" rx="5.5" ry="6.6" fill="url(#gc)"/>
<ellipse cx="486.4" cy="295.9" rx="5.5" ry="6.05" fill="url(#gc)"/>
<ellipse cx="437.9" cy="306.3" rx="6.82" ry="6.05" fill="url(#ga)"/>
<ellipse cx="449.7" cy="304.9" rx="2.2" ry="2.2" fill="url(#gc)"/>
<ellipse cx="485.7" cy="313" rx="7.7" ry="9.9" fill="url(#ge)"/>
<ellipse cx="415.9" cy="334.2" rx="8.8" ry="8.14" fill="url(#ga)"/>
<ellipse cx="391" cy="341.6" rx="6.6" ry="5.94" fill="url(#gc)"/>
<ellipse cx="399" cy="353.1" rx="9.57" ry="7.37" fill="url(#gb)"/>
<ellipse cx="449" cy="337.7" rx="12.98" ry="12.1" fill="url(#gb)"/>
<ellipse cx="469.1" cy="330.1" rx="6.82" ry="6.38" fill="url(#gc)"/>
<ellipse cx="483.6" cy="338.4" rx="8.36" ry="10.67" fill="url(#gb)"/>
<ellipse cx="489.9" cy="354.3" rx="3.3" ry="6.6" fill="url(#gc)"/>
<ellipse cx="484.3" cy="364" rx="7.7" ry="3.85" fill="url(#gc)"/>
</g>
<g clip-path="url(#c3)"><ellipse cx="114" cy="424.5" rx="16" ry="14" fill="url(#gd)"/><ellipse cx="115.5" cy="425.5" rx="6" ry="5.5" fill="#9a6cbc" opacity="0.8"/><ellipse cx="50" cy="416" rx="6" ry="10" fill="url(#gd)"/></g>
<g clip-path="url(#c3)" stroke="#f3f1f6" stroke-width="0.8">
<ellipse cx="78.3" cy="420.1" rx="10.98" ry="10.75" fill="url(#ga)" transform="rotate(-20 78.3 420.1)"/>
<ellipse cx="87.2" cy="431.8" rx="9.41" ry="7.84" fill="url(#gc)"/>
<ellipse cx="68.6" cy="440.1" rx="8.74" ry="8.74" fill="url(#ga)"/>
<ellipse cx="136.1" cy="438.7" rx="10.98" ry="10.98" fill="url(#gb)"/>
<ellipse cx="168.4" cy="439.4" rx="7.17" ry="9.41" fill="url(#ga)"/>
<ellipse cx="176.6" cy="424.3" rx="6.05" ry="6.05" fill="url(#gc)"/>
<ellipse cx="180.5" cy="439.4" rx="3.36" ry="6.72" fill="url(#gc)"/>
<ellipse cx="145.7" cy="450.4" rx="5.6" ry="5.6" fill="url(#gh)"/>
<ellipse cx="156.7" cy="452.5" rx="6.05" ry="6.05" fill="url(#gh)"/>
<ellipse cx="176.6" cy="455" rx="6.16" ry="6.72" fill="url(#ga)"/>
<ellipse cx="85.1" cy="452.5" rx="14.56" ry="11.76" fill="url(#ga)"/>
<ellipse cx="108.5" cy="455.9" rx="10.64" ry="13.66" fill="url(#ga)"/>
<ellipse cx="129.2" cy="453.1" rx="11.76" ry="10.3" fill="url(#ga)"/>
<ellipse cx="57.4" cy="463.5" rx="9.3" ry="9.18" fill="url(#gc)"/>
<ellipse cx="75.6" cy="469.8" rx="10.75" ry="7.84" fill="url(#ga)"/>
<ellipse cx="97.8" cy="472.5" rx="9.86" ry="9.86" fill="url(#ga)"/>
<ellipse cx="114.7" cy="477.9" rx="7.84" ry="8.4" fill="url(#ga)"/>
<ellipse cx="128.2" cy="467.8" rx="8.51" ry="6.94" fill="url(#gc)"/>
<ellipse cx="143.6" cy="466.4" rx="6.94" ry="6.94" fill="url(#gh)"/>
<ellipse cx="165.8" cy="468.5" rx="11.2" ry="10.53" fill="url(#ga)"/>
<ellipse cx="176.6" cy="478.5" rx="6.72" ry="8.96" fill="url(#ga)"/>
<ellipse cx="132.2" cy="483.3" rx="9.86" ry="10.64" fill="url(#ga)"/>
<ellipse cx="150.4" cy="482.6" rx="8.96" ry="9.86" fill="url(#ga)"/>
<ellipse cx="165.8" cy="486" rx="6.72" ry="6.72" fill="url(#ge)"/>
<ellipse cx="65.5" cy="483.9" rx="13.44" ry="8.51" fill="url(#gb)" transform="rotate(10 65.5 483.9)"/>
<ellipse cx="84.3" cy="481.2" rx="6.16" ry="6.16" fill="url(#gh)"/>
<ellipse cx="53.4" cy="494" rx="6.72" ry="10.53" fill="url(#ga)"/>
<ellipse cx="70.9" cy="502.8" rx="7.62" ry="7.62" fill="url(#ga)"/>
<ellipse cx="64.8" cy="494.7" rx="2.24" ry="2.24" fill="url(#gh)"/>
</g>
<g clip-path="url(#c4)"><path d="M229,446 C231,440 234,434 236.5,431.3 C238.5,430.5 240.7,432.5 240.7,434.5 C240,437 239.6,439 239.8,441 C240.5,446 241.7,451.5 244,454 C247,456.5 251,457.5 254.4,458.9 C255.5,461 255.2,463.5 254.4,464.2 C253,466 251.5,467.3 250.2,467.3 C246,466.5 243,465.5 241.7,465.2 C238,464 235,463 232,462 Z" fill="#6a64bc"/><ellipse cx="238" cy="448" rx="4" ry="6" fill="#9a94d4"/><ellipse cx="247" cy="461" rx="4" ry="2.5" fill="#8c88cc"/></g>
<g clip-path="url(#c4)" stroke="none" stroke-width="0">
<ellipse cx="234.6" cy="414.5" rx="13.8" ry="9" fill="url(#gf)"/>
<ellipse cx="274" cy="430" rx="14" ry="14.5" fill="url(#gh)"/>
<ellipse cx="253.4" cy="445.9" rx="10.8" ry="10.3" fill="url(#gh)" transform="rotate(30 253.4 445.9)"/>
<ellipse cx="303.1" cy="446.3" rx="14.4" ry="14.4" fill="url(#ga)"/>
<ellipse cx="227.7" cy="459" rx="10.6" ry="12.4" fill="url(#gf)"/>
<ellipse cx="278.3" cy="451.8" rx="2.8" ry="2.8" fill="url(#gc)"/>
<ellipse cx="283.8" cy="461.4" rx="6.9" ry="4.8" fill="url(#gc)"/>
<ellipse cx="328.5" cy="460" rx="8.3" ry="12" fill="url(#ga)"/>
<ellipse cx="205" cy="469.6" rx="2.5" ry="6" fill="url(#gc)"/>
<ellipse cx="288.7" cy="497.5" rx="14" ry="11.7" fill="url(#gh)"/>
<ellipse cx="269.2" cy="500" rx="5" ry="9" fill="url(#gc)"/>
<ellipse cx="321.2" cy="505" rx="11.7" ry="7" fill="url(#gb)"/>
<ellipse cx="334.5" cy="493.6" rx="3" ry="8" fill="url(#gc)"/>
<ellipse cx="327.7" cy="475.4" rx="2.5" ry="2.5" fill="url(#gc)"/>
</g>
<g clip-path="url(#c5)" stroke="#f3f1f6" stroke-width="0.8">
<ellipse cx="369" cy="436" rx="5.5" ry="4.95" fill="url(#ge)"/>
<ellipse cx="369" cy="436" rx="3.52" ry="3.08" fill="url(#gh)"/>
<ellipse cx="399.3" cy="427" rx="12.1" ry="11.33" fill="url(#gf)"/>
<ellipse cx="416.5" cy="418.1" rx="9.9" ry="9.9" fill="url(#gf)"/>
<ellipse cx="382.8" cy="436" rx="9.13" ry="10.56" fill="url(#gf)"/>
<ellipse cx="414.4" cy="436.6" rx="10.56" ry="9.46" fill="url(#ge)"/>
<ellipse cx="413.7" cy="436" rx="4.95" ry="4.95" fill="url(#gh)"/>
<ellipse cx="433.1" cy="424.4" rx="10.67" ry="10.67" fill="url(#gg)"/>
<ellipse cx="451.8" cy="417.5" rx="10.67" ry="8.36" fill="url(#gf)"/>
<ellipse cx="475.3" cy="427.2" rx="13.75" ry="14.52" fill="url(#gg)"/>
<ellipse cx="437.2" cy="439.6" rx="9.9" ry="8.36" fill="url(#gf)"/>
<ellipse cx="453.2" cy="435.5" rx="8.36" ry="8.36" fill="url(#gf)"/>
<ellipse cx="489.9" cy="431.3" rx="3.3" ry="7.7" fill="url(#gf)"/>
<ellipse cx="370.4" cy="450.4" rx="12.87" ry="10.56" fill="url(#gg)"/>
<ellipse cx="395.8" cy="447" rx="9.13" ry="6.82" fill="url(#gf)"/>
<ellipse cx="401.3" cy="460" rx="9.13" ry="8.36" fill="url(#gg)"/>
<ellipse cx="421.3" cy="461.4" rx="11.33" ry="12.1" fill="url(#gf)"/>
<ellipse cx="445.5" cy="454.2" rx="14.3" ry="9.9" fill="url(#gg)"/>
<ellipse cx="465.6" cy="449.3" rx="9.9" ry="9.9" fill="url(#gf)"/>
<ellipse cx="483.6" cy="450.7" rx="9.13" ry="11.44" fill="url(#gf)"/>
<ellipse cx="444.4" cy="471.5" rx="14.3" ry="11" fill="url(#gf)"/>
<ellipse cx="463.6" cy="470" rx="11" ry="9.35" fill="url(#gf)"/>
<ellipse cx="483.6" cy="471.5" rx="9.35" ry="8.25" fill="url(#gf)"/>
<ellipse cx="365.9" cy="483.3" rx="8.69" ry="10.12" fill="url(#gg)"/>
<ellipse cx="373.7" cy="499" rx="8.69" ry="8.69" fill="url(#gg)"/>
<ellipse cx="410.4" cy="482" rx="11" ry="10.12" fill="url(#gf)"/>
<ellipse cx="405.1" cy="470.2" rx="3.3" ry="3.3" fill="url(#gh)"/>
<ellipse cx="447" cy="491.2" rx="11" ry="9.24" fill="url(#gf)"/>
<ellipse cx="485" cy="501.6" rx="9.9" ry="8.03" fill="url(#gg)"/>
<ellipse cx="360.6" cy="501.6" rx="3.3" ry="7.7" fill="url(#gf)"/>
</g>
<g clip-path="url(#c5)"><ellipse cx="410" cy="509" rx="16" ry="4" fill="#d8c8e0"/></g>
</svg>
</body></html>
